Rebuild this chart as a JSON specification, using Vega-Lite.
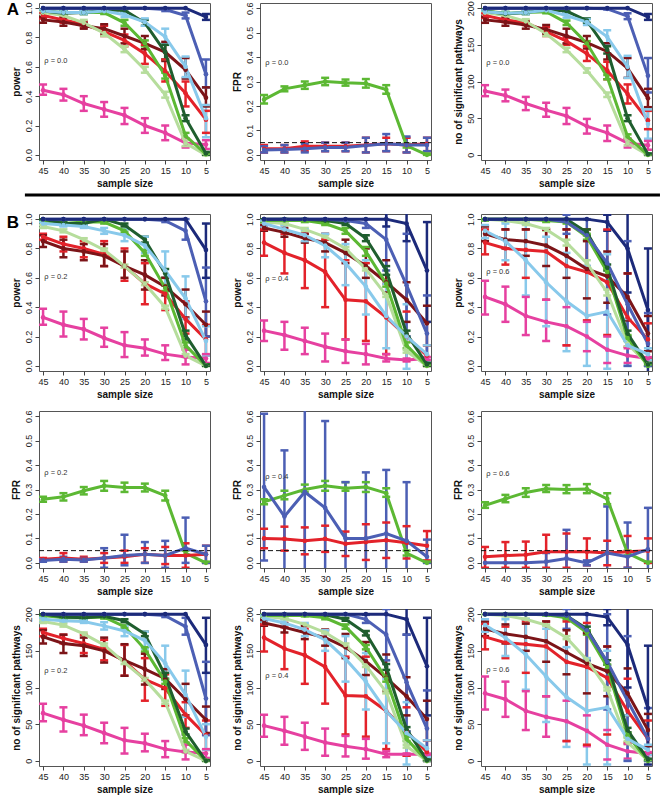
{
"$schema": "https://vega.github.io/schema/vega-lite/v6.json",
"padding": {"left": 6, "top": 0, "right": 0, "bottom": 0},
"config": {
  "font": "Liberation Sans",
  "view": {"stroke": "#555", "strokeWidth": 1},
  "axis": {"domain": false, "grid": false, "labelOverlap": false, "tickSize": 4, "tickColor": "#444", "tickWidth": 1, "labelFontSize": 9, "labelColor": "#222", "labelPadding": 2, "titleFontSize": 10, "titleFontWeight": "bold", "titleColor": "#111"},
  "axisY": {"labelAngle": -90, "labelAlign": "center", "labelBaseline": "bottom", "titlePadding": 3},
  "axisX": {"titlePadding": 3, "labelFlush": false}
},
"datasets": {
"A1": [
{"s":"i","n":45,"v":0.44,"l":0.41,"h":0.48},{"s":"i","n":40,"v":0.41,"l":0.37,"h":0.45},{"s":"i","n":35,"v":0.35,"l":0.30,"h":0.40},{"s":"i","n":30,"v":0.31,"l":0.26,"h":0.36},{"s":"i","n":25,"v":0.27,"l":0.21,"h":0.32},{"s":"i","n":20,"v":0.20,"l":0.15,"h":0.25},{"s":"i","n":15,"v":0.15,"l":0.10,"h":0.20},{"s":"i","n":10,"v":0.08,"l":0.05,"h":0.11},{"s":"i","n":5,"v":0.07,"l":0.04,"h":0.10},
{"s":"h","n":45,"v":0.95,"l":0.93,"h":0.97},{"s":"h","n":40,"v":0.92,"l":0.90,"h":0.94},{"s":"h","n":35,"v":0.89,"l":0.87,"h":0.91},{"s":"h","n":30,"v":0.84,"l":0.81,"h":0.88},{"s":"h","n":25,"v":0.78,"l":0.74,"h":0.82},{"s":"h","n":20,"v":0.69,"l":0.62,"h":0.75},{"s":"h","n":15,"v":0.57,"l":0.50,"h":0.65},{"s":"h","n":10,"v":0.42,"l":0.33,"h":0.50},{"s":"h","n":5,"v":0.24,"l":0.15,"h":0.30},
{"s":"g","n":45,"v":0.92,"l":0.90,"h":0.94},{"s":"g","n":40,"v":0.905,"l":0.88,"h":0.93},{"s":"g","n":35,"v":0.88,"l":0.86,"h":0.90},{"s":"g","n":30,"v":0.86,"l":0.82,"h":0.89},{"s":"g","n":25,"v":0.81,"l":0.76,"h":0.86},{"s":"g","n":20,"v":0.76,"l":0.72,"h":0.81},{"s":"g","n":15,"v":0.70,"l":0.64,"h":0.77},{"s":"g","n":10,"v":0.58,"l":0.52,"h":0.66},{"s":"g","n":5,"v":0.39,"l":0.33,"h":0.46},
{"s":"f","n":45,"v":0.97,"l":0.96,"h":0.98},{"s":"f","n":40,"v":0.95,"l":0.94,"h":0.96},{"s":"f","n":35,"v":0.90,"l":0.88,"h":0.92},{"s":"f","n":30,"v":0.83,"l":0.81,"h":0.85},{"s":"f","n":25,"v":0.72,"l":0.70,"h":0.74},{"s":"f","n":20,"v":0.58,"l":0.56,"h":0.60},{"s":"f","n":15,"v":0.41,"l":0.39,"h":0.43},{"s":"f","n":10,"v":0.08,"l":0.06,"h":0.10},{"s":"f","n":5,"v":0.0,"l":0.0,"h":0.01},
{"s":"e","n":45,"v":0.98,"l":0.97,"h":0.99},{"s":"e","n":40,"v":0.97,"l":0.96,"h":0.98},{"s":"e","n":35,"v":0.97,"l":0.96,"h":0.98},{"s":"e","n":30,"v":0.97,"l":0.96,"h":0.98},{"s":"e","n":25,"v":0.90,"l":0.88,"h":0.92},{"s":"e","n":20,"v":0.76,"l":0.74,"h":0.78},{"s":"e","n":15,"v":0.54,"l":0.52,"h":0.56},{"s":"e","n":10,"v":0.13,"l":0.11,"h":0.15},{"s":"e","n":5,"v":0.005,"l":0.0,"h":0.01},
{"s":"d","n":45,"v":0.98,"l":0.97,"h":0.99},{"s":"d","n":40,"v":0.965,"l":0.95,"h":0.98},{"s":"d","n":35,"v":0.97,"l":0.96,"h":0.98},{"s":"d","n":30,"v":0.985,"l":0.975,"h":0.995},{"s":"d","n":25,"v":0.985,"l":0.975,"h":0.995},{"s":"d","n":20,"v":0.90,"l":0.88,"h":0.92},{"s":"d","n":15,"v":0.70,"l":0.65,"h":0.75},{"s":"d","n":10,"v":0.25,"l":0.23,"h":0.27},{"s":"d","n":5,"v":0.01,"l":0.0,"h":0.02},
{"s":"c","n":45,"v":0.98,"l":0.97,"h":0.99},{"s":"c","n":40,"v":0.97,"l":0.96,"h":0.98},{"s":"c","n":35,"v":0.97,"l":0.96,"h":0.98},{"s":"c","n":30,"v":0.98,"l":0.97,"h":0.99},{"s":"c","n":25,"v":0.955,"l":0.94,"h":0.97},{"s":"c","n":20,"v":0.905,"l":0.88,"h":0.93},{"s":"c","n":15,"v":0.805,"l":0.76,"h":0.86},{"s":"c","n":10,"v":0.60,"l":0.53,"h":0.67},{"s":"c","n":5,"v":0.25,"l":0.12,"h":0.34},
{"s":"b","n":45,"v":1},{"s":"b","n":40,"v":1},{"s":"b","n":35,"v":1},{"s":"b","n":30,"v":1},{"s":"b","n":25,"v":1},{"s":"b","n":20,"v":1},{"s":"b","n":15,"v":0.99,"l":0.98,"h":1.0},{"s":"b","n":10,"v":0.95,"l":0.93,"h":0.97},{"s":"b","n":5,"v":0.55,"l":0.46,"h":0.65},
{"s":"a","n":45,"v":1},{"s":"a","n":40,"v":1},{"s":"a","n":35,"v":1},{"s":"a","n":30,"v":1},{"s":"a","n":25,"v":1},{"s":"a","n":20,"v":1},{"s":"a","n":15,"v":1},{"s":"a","n":10,"v":1},{"s":"a","n":5,"v":0.94,"l":0.92,"h":0.96}
],
"A2": [
{"s":"e","n":45,"v":0.226,"l":0.21,"h":0.245},{"s":"e","n":40,"v":0.27,"l":0.26,"h":0.28},{"s":"e","n":35,"v":0.285,"l":0.27,"h":0.30},{"s":"e","n":30,"v":0.30,"l":0.285,"h":0.315},{"s":"e","n":25,"v":0.295,"l":0.283,"h":0.308},{"s":"e","n":20,"v":0.292,"l":0.275,"h":0.31},{"s":"e","n":15,"v":0.267,"l":0.25,"h":0.285},{"s":"e","n":10,"v":0.038,"l":0.03,"h":0.046},{"s":"e","n":5,"v":0.0,"l":0.0,"h":0.005},
{"s":"h","n":45,"v":0.025,"l":0.01,"h":0.04},{"s":"h","n":40,"v":0.025,"l":0.01,"h":0.04},{"s":"h","n":35,"v":0.035,"l":0.015,"h":0.055},{"s":"h","n":30,"v":0.035,"l":0.015,"h":0.05},{"s":"h","n":25,"v":0.035,"l":0.015,"h":0.05},{"s":"h","n":20,"v":0.04,"l":0.01,"h":0.07},{"s":"h","n":15,"v":0.045,"l":0.015,"h":0.07},{"s":"h","n":10,"v":0.04,"l":0.01,"h":0.07},{"s":"h","n":5,"v":0.045,"l":0.015,"h":0.07},
{"s":"b","n":45,"v":0.02,"l":0.01,"h":0.035},{"s":"b","n":40,"v":0.022,"l":0.01,"h":0.04},{"s":"b","n":35,"v":0.025,"l":0.01,"h":0.045},{"s":"b","n":30,"v":0.03,"l":0.015,"h":0.05},{"s":"b","n":25,"v":0.03,"l":0.015,"h":0.05},{"s":"b","n":20,"v":0.038,"l":0.01,"h":0.07},{"s":"b","n":15,"v":0.045,"l":0.015,"h":0.085},{"s":"b","n":10,"v":0.04,"l":0.01,"h":0.075},{"s":"b","n":5,"v":0.04,"l":0.015,"h":0.07}
],
"A3": [
{"s":"i","n":45,"v":87,"l":80,"h":95},{"s":"i","n":40,"v":81,"l":73,"h":89},{"s":"i","n":35,"v":70,"l":61,"h":79},{"s":"i","n":30,"v":61,"l":52,"h":71},{"s":"i","n":25,"v":53,"l":42,"h":64},{"s":"i","n":20,"v":39,"l":29,"h":49},{"s":"i","n":15,"v":30,"l":19,"h":40},{"s":"i","n":10,"v":16,"l":10,"h":22},{"s":"i","n":5,"v":13,"l":7,"h":19},
{"s":"h","n":45,"v":190,"l":187,"h":193},{"s":"h","n":40,"v":184,"l":181,"h":187},{"s":"h","n":35,"v":180,"l":177,"h":183},{"s":"h","n":30,"v":168,"l":162,"h":174},{"s":"h","n":25,"v":155,"l":150,"h":160},{"s":"h","n":20,"v":138,"l":128,"h":148},{"s":"h","n":15,"v":115,"l":103,"h":127},{"s":"h","n":10,"v":83,"l":70,"h":96},{"s":"h","n":5,"v":47,"l":35,"h":60},
{"s":"g","n":45,"v":184,"l":180,"h":188},{"s":"g","n":40,"v":181,"l":176,"h":186},{"s":"g","n":35,"v":177,"l":172,"h":182},{"s":"g","n":30,"v":171,"l":165,"h":177},{"s":"g","n":25,"v":162,"l":152,"h":172},{"s":"g","n":20,"v":153,"l":145,"h":162},{"s":"g","n":15,"v":141,"l":130,"h":152},{"s":"g","n":10,"v":118,"l":105,"h":132},{"s":"g","n":5,"v":77,"l":65,"h":90},
{"s":"f","n":45,"v":194,"l":192,"h":196},{"s":"f","n":40,"v":190,"l":188,"h":192},{"s":"f","n":35,"v":182,"l":179,"h":185},{"s":"f","n":30,"v":165,"l":162,"h":168},{"s":"f","n":25,"v":143,"l":140,"h":146},{"s":"f","n":20,"v":115,"l":112,"h":118},{"s":"f","n":15,"v":82,"l":79,"h":85},{"s":"f","n":10,"v":16,"l":13,"h":19},{"s":"f","n":5,"v":0,"l":0,"h":1},
{"s":"e","n":45,"v":196,"l":194,"h":198},{"s":"e","n":40,"v":193,"l":191,"h":195},{"s":"e","n":35,"v":194,"l":192,"h":196},{"s":"e","n":30,"v":195,"l":193,"h":197},{"s":"e","n":25,"v":180,"l":177,"h":183},{"s":"e","n":20,"v":152,"l":149,"h":155},{"s":"e","n":15,"v":106,"l":103,"h":109},{"s":"e","n":10,"v":25,"l":22,"h":28},{"s":"e","n":5,"v":0,"l":0,"h":1},
{"s":"d","n":45,"v":196,"l":194,"h":198},{"s":"d","n":40,"v":192,"l":190,"h":194},{"s":"d","n":35,"v":194,"l":192,"h":196},{"s":"d","n":30,"v":198,"l":196,"h":200},{"s":"d","n":25,"v":196,"l":194,"h":198},{"s":"d","n":20,"v":183,"l":180,"h":186},{"s":"d","n":15,"v":143,"l":138,"h":148},{"s":"d","n":10,"v":50,"l":46,"h":54},{"s":"d","n":5,"v":1,"l":0,"h":2},
{"s":"c","n":45,"v":195,"l":193,"h":197},{"s":"c","n":40,"v":193,"l":191,"h":195},{"s":"c","n":35,"v":194,"l":192,"h":196},{"s":"c","n":30,"v":197,"l":195,"h":199},{"s":"c","n":25,"v":190,"l":187,"h":193},{"s":"c","n":20,"v":181,"l":177,"h":185},{"s":"c","n":15,"v":161,"l":150,"h":170},{"s":"c","n":10,"v":120,"l":105,"h":135},{"s":"c","n":5,"v":42,"l":22,"h":62},
{"s":"b","n":45,"v":200},{"s":"b","n":40,"v":200},{"s":"b","n":35,"v":200},{"s":"b","n":30,"v":200},{"s":"b","n":25,"v":200},{"s":"b","n":20,"v":200},{"s":"b","n":15,"v":199,"l":198,"h":200},{"s":"b","n":10,"v":189,"l":185,"h":193},{"s":"b","n":5,"v":108,"l":85,"h":132},
{"s":"a","n":45,"v":200},{"s":"a","n":40,"v":200},{"s":"a","n":35,"v":200},{"s":"a","n":30,"v":200},{"s":"a","n":25,"v":200},{"s":"a","n":20,"v":200},{"s":"a","n":15,"v":200},{"s":"a","n":10,"v":200},{"s":"a","n":5,"v":188,"l":184,"h":192}
],
"B1p": [
{"s":"i","n":45,"v":0.33,"l":0.28,"h":0.39},{"s":"i","n":40,"v":0.28,"l":0.20,"h":0.37},{"s":"i","n":35,"v":0.25,"l":0.18,"h":0.32},{"s":"i","n":30,"v":0.19,"l":0.13,"h":0.26},{"s":"i","n":25,"v":0.14,"l":0.06,"h":0.23},{"s":"i","n":20,"v":0.12,"l":0.07,"h":0.18},{"s":"i","n":15,"v":0.08,"l":0.04,"h":0.14},{"s":"i","n":10,"v":0.06,"l":0.01,"h":0.11},{"s":"i","n":5,"v":0.05,"l":0.02,"h":0.08},
{"s":"h","n":45,"v":0.88,"l":0.86,"h":0.90},{"s":"h","n":40,"v":0.83,"l":0.78,"h":0.88},{"s":"h","n":35,"v":0.80,"l":0.74,"h":0.85},{"s":"h","n":30,"v":0.76,"l":0.68,"h":0.85},{"s":"h","n":25,"v":0.68,"l":0.58,"h":0.80},{"s":"h","n":20,"v":0.56,"l":0.42,"h":0.70},{"s":"h","n":15,"v":0.49,"l":0.38,"h":0.55},{"s":"h","n":10,"v":0.32,"l":0.22,"h":0.44},{"s":"h","n":5,"v":0.18,"l":0.07,"h":0.28},
{"s":"g","n":45,"v":0.85,"l":0.81,"h":0.89},{"s":"g","n":40,"v":0.80,"l":0.74,"h":0.86},{"s":"g","n":35,"v":0.78,"l":0.72,"h":0.83},{"s":"g","n":30,"v":0.75,"l":0.68,"h":0.83},{"s":"g","n":25,"v":0.68,"l":0.60,"h":0.78},{"s":"g","n":20,"v":0.62,"l":0.52,"h":0.72},{"s":"g","n":15,"v":0.54,"l":0.48,"h":0.60},{"s":"g","n":10,"v":0.42,"l":0.33,"h":0.52},{"s":"g","n":5,"v":0.28,"l":0.20,"h":0.37},
{"s":"f","n":45,"v":0.95,"l":0.94,"h":0.96},{"s":"f","n":40,"v":0.92,"l":0.91,"h":0.93},{"s":"f","n":35,"v":0.86,"l":0.85,"h":0.87},{"s":"f","n":30,"v":0.79,"l":0.78,"h":0.80},{"s":"f","n":25,"v":0.68,"l":0.67,"h":0.69},{"s":"f","n":20,"v":0.56,"l":0.55,"h":0.57},{"s":"f","n":15,"v":0.40,"l":0.39,"h":0.41},{"s":"f","n":10,"v":0.07,"l":0.06,"h":0.08},{"s":"f","n":5,"v":0.0,"l":0.0,"h":0.01},
{"s":"e","n":45,"v":0.99,"l":0.98,"h":1.0},{"s":"e","n":40,"v":0.97,"l":0.96,"h":0.98},{"s":"e","n":35,"v":0.98,"l":0.97,"h":0.99},{"s":"e","n":30,"v":0.98,"l":0.97,"h":0.99},{"s":"e","n":25,"v":0.92,"l":0.91,"h":0.93},{"s":"e","n":20,"v":0.77,"l":0.75,"h":0.79},{"s":"e","n":15,"v":0.53,"l":0.51,"h":0.55},{"s":"e","n":10,"v":0.14,"l":0.12,"h":0.16},{"s":"e","n":5,"v":0.0,"l":0.0,"h":0.01},
{"s":"d","n":45,"v":1.0,"l":0.99,"h":1.0},{"s":"d","n":40,"v":0.97,"l":0.96,"h":0.98},{"s":"d","n":35,"v":0.97,"l":0.96,"h":0.98},{"s":"d","n":30,"v":1.0,"l":0.99,"h":1.0},{"s":"d","n":25,"v":0.96,"l":0.95,"h":0.97},{"s":"d","n":20,"v":0.86,"l":0.84,"h":0.88},{"s":"d","n":15,"v":0.63,"l":0.60,"h":0.66},{"s":"d","n":10,"v":0.21,"l":0.18,"h":0.24},{"s":"d","n":5,"v":0.0,"l":0.0,"h":0.01},
{"s":"c","n":45,"v":0.97,"l":0.96,"h":0.98},{"s":"c","n":40,"v":0.96,"l":0.95,"h":0.97},{"s":"c","n":35,"v":0.95,"l":0.94,"h":0.96},{"s":"c","n":30,"v":0.92,"l":0.90,"h":0.94},{"s":"c","n":25,"v":0.89,"l":0.85,"h":0.93},{"s":"c","n":20,"v":0.82,"l":0.77,"h":0.88},{"s":"c","n":15,"v":0.65,"l":0.55,"h":0.78},{"s":"c","n":10,"v":0.46,"l":0.32,"h":0.61},{"s":"c","n":5,"v":0.17,"l":0.07,"h":0.27},
{"s":"b","n":45,"v":1},{"s":"b","n":40,"v":1},{"s":"b","n":35,"v":1},{"s":"b","n":30,"v":1},{"s":"b","n":25,"v":1},{"s":"b","n":20,"v":1},{"s":"b","n":15,"v":0.99,"l":0.98,"h":1.0},{"s":"b","n":10,"v":0.92,"l":0.86,"h":1.0},{"s":"b","n":5,"v":0.44,"l":0.20,"h":0.67},
{"s":"a","n":45,"v":1},{"s":"a","n":40,"v":1},{"s":"a","n":35,"v":1},{"s":"a","n":30,"v":1},{"s":"a","n":25,"v":1},{"s":"a","n":20,"v":1},{"s":"a","n":15,"v":1},{"s":"a","n":10,"v":1},{"s":"a","n":5,"v":0.79,"l":0.60,"h":0.97}
],
"B2p": [
{"s":"i","n":45,"v":0.24,"l":0.17,"h":0.31},{"s":"i","n":40,"v":0.21,"l":0.11,"h":0.30},{"s":"i","n":35,"v":0.17,"l":0.08,"h":0.26},{"s":"i","n":30,"v":0.13,"l":0.03,"h":0.22},{"s":"i","n":25,"v":0.10,"l":0.02,"h":0.18},{"s":"i","n":20,"v":0.08,"l":0.01,"h":0.15},{"s":"i","n":15,"v":0.05,"l":0.03,"h":0.08},{"s":"i","n":10,"v":0.04,"l":0.03,"h":0.05},{"s":"i","n":5,"v":0.05,"l":0.04,"h":0.06},
{"s":"h","n":45,"v":0.84,"l":0.75,"h":0.93},{"s":"h","n":40,"v":0.77,"l":0.63,"h":0.90},{"s":"h","n":35,"v":0.72,"l":0.53,"h":0.90},{"s":"h","n":30,"v":0.64,"l":0.40,"h":0.86},{"s":"h","n":25,"v":0.45,"l":0.18,"h":0.72},{"s":"h","n":20,"v":0.44,"l":0.17,"h":0.70},{"s":"h","n":15,"v":0.33,"l":0.08,"h":0.56},{"s":"h","n":10,"v":0.20,"l":0.04,"h":0.37},{"s":"h","n":5,"v":0.07,"l":0.0,"h":0.14},
{"s":"g","n":45,"v":0.94,"l":0.92,"h":0.96},{"s":"g","n":40,"v":0.91,"l":0.88,"h":0.94},{"s":"g","n":35,"v":0.87,"l":0.84,"h":0.90},{"s":"g","n":30,"v":0.84,"l":0.78,"h":0.90},{"s":"g","n":25,"v":0.77,"l":0.70,"h":0.86},{"s":"g","n":20,"v":0.68,"l":0.60,"h":0.80},{"s":"g","n":15,"v":0.57,"l":0.50,"h":0.72},{"s":"g","n":10,"v":0.45,"l":0.30,"h":0.57},{"s":"g","n":5,"v":0.29,"l":0.14,"h":0.41},
{"s":"f","n":45,"v":0.98,"l":0.97,"h":0.99},{"s":"f","n":40,"v":0.97,"l":0.96,"h":0.98},{"s":"f","n":35,"v":0.93,"l":0.92,"h":0.94},{"s":"f","n":30,"v":0.88,"l":0.87,"h":0.89},{"s":"f","n":25,"v":0.80,"l":0.79,"h":0.81},{"s":"f","n":20,"v":0.66,"l":0.65,"h":0.67},{"s":"f","n":15,"v":0.48,"l":0.47,"h":0.49},{"s":"f","n":10,"v":0.10,"l":0.09,"h":0.11},{"s":"f","n":5,"v":0.0,"l":0.0,"h":0.01},
{"s":"e","n":45,"v":0.99,"l":0.98,"h":1.0},{"s":"e","n":40,"v":0.99,"l":0.98,"h":1.0},{"s":"e","n":35,"v":0.99,"l":0.98,"h":1.0},{"s":"e","n":30,"v":0.97,"l":0.96,"h":0.98},{"s":"e","n":25,"v":0.92,"l":0.90,"h":0.94},{"s":"e","n":20,"v":0.78,"l":0.75,"h":0.81},{"s":"e","n":15,"v":0.56,"l":0.54,"h":0.58},{"s":"e","n":10,"v":0.14,"l":0.12,"h":0.16},{"s":"e","n":5,"v":0.0,"l":0.0,"h":0.01},
{"s":"d","n":45,"v":1.0,"l":0.99,"h":1.0},{"s":"d","n":40,"v":1.0,"l":0.99,"h":1.0},{"s":"d","n":35,"v":1.0,"l":0.99,"h":1.0},{"s":"d","n":30,"v":0.99,"l":0.98,"h":1.0},{"s":"d","n":25,"v":0.97,"l":0.96,"h":0.98},{"s":"d","n":20,"v":0.87,"l":0.85,"h":0.89},{"s":"d","n":15,"v":0.65,"l":0.62,"h":0.68},{"s":"d","n":10,"v":0.22,"l":0.20,"h":0.24},{"s":"d","n":5,"v":0.01,"l":0.0,"h":0.02},
{"s":"c","n":45,"v":0.97,"l":0.95,"h":0.99},{"s":"c","n":40,"v":0.93,"l":0.90,"h":0.96},{"s":"c","n":35,"v":0.89,"l":0.85,"h":0.93},{"s":"c","n":30,"v":0.82,"l":0.74,"h":0.90},{"s":"c","n":25,"v":0.70,"l":0.55,"h":0.83},{"s":"c","n":20,"v":0.54,"l":0.35,"h":0.72},{"s":"c","n":15,"v":0.34,"l":0.12,"h":0.56},{"s":"c","n":10,"v":0.20,"l":-0.02,"h":0.42},{"s":"c","n":5,"v":0.08,"l":0.02,"h":0.14},
{"s":"b","n":45,"v":1},{"s":"b","n":40,"v":1},{"s":"b","n":35,"v":1},{"s":"b","n":30,"v":1},{"s":"b","n":25,"v":0.99,"l":0.98,"h":1.0},{"s":"b","n":20,"v":0.97,"l":0.94,"h":1.0},{"s":"b","n":15,"v":0.86,"l":0.65,"h":1.05},{"s":"b","n":10,"v":0.55,"l":0.20,"h":0.90},{"s":"b","n":5,"v":0.22,"l":0.02,"h":0.48},
{"s":"a","n":45,"v":1},{"s":"a","n":40,"v":1},{"s":"a","n":35,"v":1},{"s":"a","n":30,"v":1},{"s":"a","n":25,"v":1},{"s":"a","n":20,"v":1},{"s":"a","n":15,"v":1.0,"l":0.95,"h":1.05},{"s":"a","n":10,"v":0.97,"l":0.85,"h":1.05},{"s":"a","n":5,"v":0.65,"l":0.30,"h":0.98}
],
"B3p": [
{"s":"i","n":45,"v":0.47,"l":0.35,"h":0.58},{"s":"i","n":40,"v":0.42,"l":0.30,"h":0.54},{"s":"i","n":35,"v":0.34,"l":0.21,"h":0.47},{"s":"i","n":30,"v":0.30,"l":0.17,"h":0.45},{"s":"i","n":25,"v":0.27,"l":0.14,"h":0.40},{"s":"i","n":20,"v":0.20,"l":0.10,"h":0.30},{"s":"i","n":15,"v":0.11,"l":0.02,"h":0.20},{"s":"i","n":10,"v":0.07,"l":0.02,"h":0.12},{"s":"i","n":5,"v":0.05,"l":0.04,"h":0.06},
{"s":"h","n":45,"v":0.84,"l":0.76,"h":0.93},{"s":"h","n":40,"v":0.80,"l":0.69,"h":0.93},{"s":"h","n":35,"v":0.79,"l":0.60,"h":0.93},{"s":"h","n":30,"v":0.78,"l":0.45,"h":0.93},{"s":"h","n":25,"v":0.68,"l":0.14,"h":0.93},{"s":"h","n":20,"v":0.64,"l":0.31,"h":0.93},{"s":"h","n":15,"v":0.57,"l":0.21,"h":0.93},{"s":"h","n":10,"v":0.33,"l":0.13,"h":0.63},{"s":"h","n":5,"v":0.18,"l":0.05,"h":0.29},
{"s":"g","n":45,"v":0.90,"l":0.85,"h":0.95},{"s":"g","n":40,"v":0.86,"l":0.80,"h":0.93},{"s":"g","n":35,"v":0.85,"l":0.75,"h":0.93},{"s":"g","n":30,"v":0.82,"l":0.68,"h":0.93},{"s":"g","n":25,"v":0.75,"l":0.60,"h":0.93},{"s":"g","n":20,"v":0.66,"l":0.46,"h":0.85},{"s":"g","n":15,"v":0.61,"l":0.43,"h":0.78},{"s":"g","n":10,"v":0.47,"l":0.31,"h":0.63},{"s":"g","n":5,"v":0.22,"l":0.10,"h":0.34},
{"s":"f","n":45,"v":1.0,"l":0.99,"h":1.0},{"s":"f","n":40,"v":0.99,"l":0.98,"h":1.0},{"s":"f","n":35,"v":0.97,"l":0.96,"h":0.98},{"s":"f","n":30,"v":0.93,"l":0.92,"h":0.94},{"s":"f","n":25,"v":0.84,"l":0.82,"h":0.86},{"s":"f","n":20,"v":0.70,"l":0.68,"h":0.72},{"s":"f","n":15,"v":0.50,"l":0.48,"h":0.52},{"s":"f","n":10,"v":0.15,"l":0.13,"h":0.17},{"s":"f","n":5,"v":0.01,"l":0.0,"h":0.02},
{"s":"e","n":45,"v":1.0,"l":0.99,"h":1.0},{"s":"e","n":40,"v":1.0,"l":0.99,"h":1.0},{"s":"e","n":35,"v":1.0,"l":0.99,"h":1.0},{"s":"e","n":30,"v":0.99,"l":0.98,"h":1.0},{"s":"e","n":25,"v":0.98,"l":0.97,"h":0.99},{"s":"e","n":20,"v":0.88,"l":0.86,"h":0.90},{"s":"e","n":15,"v":0.64,"l":0.62,"h":0.66},{"s":"e","n":10,"v":0.19,"l":0.17,"h":0.21},{"s":"e","n":5,"v":0.0,"l":0.0,"h":0.01},
{"s":"d","n":45,"v":1},{"s":"d","n":40,"v":1},{"s":"d","n":35,"v":1},{"s":"d","n":30,"v":1},{"s":"d","n":25,"v":1.0,"l":0.99,"h":1.0},{"s":"d","n":20,"v":0.91,"l":0.89,"h":0.93},{"s":"d","n":15,"v":0.67,"l":0.65,"h":0.69},{"s":"d","n":10,"v":0.22,"l":0.20,"h":0.24},{"s":"d","n":5,"v":0.01,"l":0.0,"h":0.02},
{"s":"c","n":45,"v":0.92,"l":0.87,"h":0.96},{"s":"c","n":40,"v":0.85,"l":0.72,"h":0.97},{"s":"c","n":35,"v":0.72,"l":0.48,"h":0.97},{"s":"c","n":30,"v":0.57,"l":0.27,"h":0.88},{"s":"c","n":25,"v":0.44,"l":0.10,"h":0.77},{"s":"c","n":20,"v":0.34,"l":0.0,"h":0.68},{"s":"c","n":15,"v":0.37,"l":-0.02,"h":0.76},{"s":"c","n":10,"v":0.14,"l":0.0,"h":0.32},{"s":"c","n":5,"v":0.08,"l":0.04,"h":0.12},
{"s":"b","n":45,"v":1},{"s":"b","n":40,"v":1},{"s":"b","n":35,"v":1},{"s":"b","n":30,"v":1},{"s":"b","n":25,"v":0.98,"l":0.90,"h":1.03},{"s":"b","n":20,"v":0.89,"l":0.68,"h":1.0},{"s":"b","n":15,"v":0.70,"l":0.35,"h":1.03},{"s":"b","n":10,"v":0.42,"l":0.0,"h":0.85},{"s":"b","n":5,"v":0.15,"l":0.0,"h":0.36},
{"s":"a","n":45,"v":1},{"s":"a","n":40,"v":1},{"s":"a","n":35,"v":1},{"s":"a","n":30,"v":1},{"s":"a","n":25,"v":1},{"s":"a","n":20,"v":1},{"s":"a","n":15,"v":0.98,"l":0.92,"h":1.03},{"s":"a","n":10,"v":0.80,"l":0.50,"h":1.1},{"s":"a","n":5,"v":0.38,"l":-0.05,"h":0.80}
],
"B1f": [
{"s":"e","n":45,"v":0.26,"l":0.25,"h":0.27},{"s":"e","n":40,"v":0.27,"l":0.255,"h":0.285},{"s":"e","n":35,"v":0.295,"l":0.28,"h":0.31},{"s":"e","n":30,"v":0.315,"l":0.295,"h":0.335},{"s":"e","n":25,"v":0.308,"l":0.29,"h":0.328},{"s":"e","n":20,"v":0.308,"l":0.292,"h":0.324},{"s":"e","n":15,"v":0.275,"l":0.255,"h":0.295},{"s":"e","n":10,"v":0.04,"l":0.03,"h":0.05},{"s":"e","n":5,"v":0.0,"l":0.0,"h":0.005},
{"s":"h","n":45,"v":0.015,"l":0.01,"h":0.02},{"s":"h","n":40,"v":0.02,"l":0.005,"h":0.04},{"s":"h","n":35,"v":0.015,"l":0.005,"h":0.025},{"s":"h","n":30,"v":0.02,"l":0.0,"h":0.04},{"s":"h","n":25,"v":0.025,"l":0.0,"h":0.05},{"s":"h","n":20,"v":0.035,"l":0.0,"h":0.06},{"s":"h","n":15,"v":0.03,"l":-0.005,"h":0.065},{"s":"h","n":10,"v":0.03,"l":-0.02,"h":0.08},{"s":"h","n":5,"v":0.035,"l":0.0,"h":0.07},
{"s":"b","n":45,"v":0.01,"l":0.005,"h":0.015},{"s":"b","n":40,"v":0.015,"l":0.005,"h":0.025},{"s":"b","n":35,"v":0.012,"l":0.005,"h":0.02},{"s":"b","n":30,"v":0.02,"l":-0.02,"h":0.06},{"s":"b","n":25,"v":0.03,"l":-0.01,"h":0.115},{"s":"b","n":20,"v":0.035,"l":0.0,"h":0.085},{"s":"b","n":15,"v":0.03,"l":-0.02,"h":0.09},{"s":"b","n":10,"v":0.06,"l":0.0,"h":0.185},{"s":"b","n":5,"v":0.035,"l":0.0,"h":0.07}
],
"B2f": [
{"s":"e","n":45,"v":0.25,"l":0.24,"h":0.26},{"s":"e","n":40,"v":0.275,"l":0.26,"h":0.295},{"s":"e","n":35,"v":0.30,"l":0.29,"h":0.32},{"s":"e","n":30,"v":0.315,"l":0.295,"h":0.335},{"s":"e","n":25,"v":0.305,"l":0.295,"h":0.33},{"s":"e","n":20,"v":0.31,"l":0.29,"h":0.33},{"s":"e","n":15,"v":0.285,"l":0.27,"h":0.305},{"s":"e","n":10,"v":0.04,"l":0.03,"h":0.05},{"s":"e","n":5,"v":0.0,"l":0.0,"h":0.005},
{"s":"h","n":45,"v":0.10,"l":0.06,"h":0.14},{"s":"h","n":40,"v":0.098,"l":0.05,"h":0.148},{"s":"h","n":35,"v":0.09,"l":0.035,"h":0.145},{"s":"h","n":30,"v":0.098,"l":0.045,"h":0.152},{"s":"h","n":25,"v":0.078,"l":0.028,"h":0.128},{"s":"h","n":20,"v":0.085,"l":0.012,"h":0.158},{"s":"h","n":15,"v":0.092,"l":0.02,"h":0.165},{"s":"h","n":10,"v":0.082,"l":0.018,"h":0.15},{"s":"h","n":5,"v":0.07,"l":0.01,"h":0.13},
{"s":"b","n":45,"v":0.31,"l":0.01,"h":0.61},{"s":"b","n":40,"v":0.19,"l":-0.03,"h":0.46},{"s":"b","n":35,"v":0.29,"l":-0.03,"h":0.65},{"s":"b","n":30,"v":0.225,"l":-0.03,"h":0.58},{"s":"b","n":25,"v":0.10,"l":-0.03,"h":0.33},{"s":"b","n":20,"v":0.10,"l":-0.03,"h":0.37},{"s":"b","n":15,"v":0.12,"l":-0.03,"h":0.38},{"s":"b","n":10,"v":0.09,"l":-0.03,"h":0.33},{"s":"b","n":5,"v":0.025,"l":0.0,"h":0.095}
],
"B3f": [
{"s":"e","n":45,"v":0.235,"l":0.225,"h":0.248},{"s":"e","n":40,"v":0.262,"l":0.248,"h":0.278},{"s":"e","n":35,"v":0.288,"l":0.27,"h":0.305},{"s":"e","n":30,"v":0.303,"l":0.29,"h":0.318},{"s":"e","n":25,"v":0.30,"l":0.285,"h":0.318},{"s":"e","n":20,"v":0.302,"l":0.285,"h":0.322},{"s":"e","n":15,"v":0.262,"l":0.24,"h":0.285},{"s":"e","n":10,"v":0.04,"l":0.03,"h":0.05},{"s":"e","n":5,"v":0.0,"l":0.0,"h":0.005},
{"s":"h","n":45,"v":0.025,"l":-0.02,"h":0.065},{"s":"h","n":40,"v":0.03,"l":-0.02,"h":0.085},{"s":"h","n":35,"v":0.033,"l":-0.02,"h":0.087},{"s":"h","n":30,"v":0.045,"l":-0.02,"h":0.115},{"s":"h","n":25,"v":0.045,"l":-0.02,"h":0.12},{"s":"h","n":20,"v":0.045,"l":-0.01,"h":0.10},{"s":"h","n":15,"v":0.04,"l":-0.01,"h":0.09},{"s":"h","n":10,"v":0.045,"l":-0.02,"h":0.11},{"s":"h","n":5,"v":0.05,"l":0.0,"h":0.10},
{"s":"b","n":45,"v":0.0},{"s":"b","n":40,"v":0.0},{"s":"b","n":35,"v":0.0},{"s":"b","n":30,"v":0.005,"l":-0.03,"h":0.04},{"s":"b","n":25,"v":0.018,"l":-0.03,"h":0.135},{"s":"b","n":20,"v":0.0,"l":-0.01,"h":0.01},{"s":"b","n":15,"v":0.04,"l":-0.03,"h":0.23},{"s":"b","n":10,"v":0.025,"l":-0.02,"h":0.165},{"s":"b","n":5,"v":0.055,"l":-0.03,"h":0.225}
],
"B1c": [
{"s":"i","n":45,"v":65,"l":54,"h":78},{"s":"i","n":40,"v":56,"l":40,"h":73},{"s":"i","n":35,"v":48,"l":35,"h":63},{"s":"i","n":30,"v":38,"l":24,"h":52},{"s":"i","n":25,"v":28,"l":10,"h":45},{"s":"i","n":20,"v":24,"l":13,"h":37},{"s":"i","n":15,"v":16,"l":5,"h":27},{"s":"i","n":10,"v":12,"l":2,"h":22},{"s":"i","n":5,"v":10,"l":4,"h":16},
{"s":"h","n":45,"v":175,"l":170,"h":180},{"s":"h","n":40,"v":167,"l":160,"h":172},{"s":"h","n":35,"v":160,"l":147,"h":172},{"s":"h","n":30,"v":152,"l":137,"h":165},{"s":"h","n":25,"v":136,"l":116,"h":158},{"s":"h","n":20,"v":111,"l":82,"h":140},{"s":"h","n":15,"v":99,"l":75,"h":118},{"s":"h","n":10,"v":63,"l":45,"h":80},{"s":"h","n":5,"v":35,"l":15,"h":55},
{"s":"g","n":45,"v":169,"l":160,"h":178},{"s":"g","n":40,"v":160,"l":147,"h":172},{"s":"g","n":35,"v":157,"l":143,"h":168},{"s":"g","n":30,"v":150,"l":134,"h":168},{"s":"g","n":25,"v":137,"l":116,"h":159},{"s":"g","n":20,"v":125,"l":104,"h":146},{"s":"g","n":15,"v":112,"l":98,"h":125},{"s":"g","n":10,"v":84,"l":62,"h":105},{"s":"g","n":5,"v":56,"l":38,"h":74},
{"s":"f","n":45,"v":190,"l":188,"h":192},{"s":"f","n":40,"v":185,"l":183,"h":187},{"s":"f","n":35,"v":173,"l":171,"h":175},{"s":"f","n":30,"v":158,"l":156,"h":160},{"s":"f","n":25,"v":134,"l":132,"h":136},{"s":"f","n":20,"v":111,"l":109,"h":113},{"s":"f","n":15,"v":80,"l":78,"h":82},{"s":"f","n":10,"v":13,"l":11,"h":15},{"s":"f","n":5,"v":0,"l":0,"h":1},
{"s":"e","n":45,"v":198,"l":196,"h":200},{"s":"e","n":40,"v":195,"l":193,"h":197},{"s":"e","n":35,"v":195,"l":193,"h":197},{"s":"e","n":30,"v":196,"l":194,"h":198},{"s":"e","n":25,"v":183,"l":181,"h":185},{"s":"e","n":20,"v":152,"l":149,"h":155},{"s":"e","n":15,"v":108,"l":105,"h":111},{"s":"e","n":10,"v":28,"l":25,"h":31},{"s":"e","n":5,"v":0,"l":0,"h":1},
{"s":"d","n":45,"v":200,"l":199,"h":200},{"s":"d","n":40,"v":196,"l":194,"h":198},{"s":"d","n":35,"v":195,"l":193,"h":197},{"s":"d","n":30,"v":197,"l":195,"h":199},{"s":"d","n":25,"v":191,"l":189,"h":193},{"s":"d","n":20,"v":173,"l":170,"h":176},{"s":"d","n":15,"v":116,"l":112,"h":120},{"s":"d","n":10,"v":40,"l":36,"h":44},{"s":"d","n":5,"v":0,"l":0,"h":1},
{"s":"c","n":45,"v":193,"l":191,"h":195},{"s":"c","n":40,"v":191,"l":189,"h":193},{"s":"c","n":35,"v":190,"l":188,"h":192},{"s":"c","n":30,"v":184,"l":179,"h":189},{"s":"c","n":25,"v":177,"l":170,"h":184},{"s":"c","n":20,"v":164,"l":153,"h":176},{"s":"c","n":15,"v":133,"l":110,"h":157},{"s":"c","n":10,"v":90,"l":60,"h":123},{"s":"c","n":5,"v":33,"l":15,"h":50},
{"s":"b","n":45,"v":200},{"s":"b","n":40,"v":200},{"s":"b","n":35,"v":200},{"s":"b","n":30,"v":200},{"s":"b","n":25,"v":200},{"s":"b","n":20,"v":200},{"s":"b","n":15,"v":198,"l":196,"h":200},{"s":"b","n":10,"v":183,"l":172,"h":195},{"s":"b","n":5,"v":85,"l":35,"h":135},
{"s":"a","n":45,"v":200},{"s":"a","n":40,"v":200},{"s":"a","n":35,"v":200},{"s":"a","n":30,"v":200},{"s":"a","n":25,"v":200},{"s":"a","n":20,"v":200},{"s":"a","n":15,"v":200},{"s":"a","n":10,"v":200},{"s":"a","n":5,"v":158,"l":120,"h":195}
],
"B2c": [
{"s":"i","n":45,"v":48,"l":33,"h":63},{"s":"i","n":40,"v":41,"l":22,"h":60},{"s":"i","n":35,"v":33,"l":15,"h":52},{"s":"i","n":30,"v":25,"l":7,"h":44},{"s":"i","n":25,"v":20,"l":6,"h":34},{"s":"i","n":20,"v":16,"l":3,"h":30},{"s":"i","n":15,"v":9,"l":5,"h":13},{"s":"i","n":10,"v":9,"l":7,"h":10},{"s":"i","n":5,"v":9,"l":8,"h":10},
{"s":"h","n":45,"v":168,"l":149,"h":186},{"s":"h","n":40,"v":153,"l":125,"h":182},{"s":"h","n":35,"v":144,"l":105,"h":180},{"s":"h","n":30,"v":128,"l":78,"h":178},{"s":"h","n":25,"v":89,"l":36,"h":142},{"s":"h","n":20,"v":88,"l":33,"h":142},{"s":"h","n":15,"v":68,"l":16,"h":115},{"s":"h","n":10,"v":40,"l":7,"h":73},{"s":"h","n":5,"v":12,"l":0,"h":28},
{"s":"g","n":45,"v":188,"l":184,"h":192},{"s":"g","n":40,"v":182,"l":175,"h":188},{"s":"g","n":35,"v":175,"l":166,"h":184},{"s":"g","n":30,"v":168,"l":157,"h":179},{"s":"g","n":25,"v":155,"l":140,"h":173},{"s":"g","n":20,"v":136,"l":117,"h":162},{"s":"g","n":15,"v":113,"l":95,"h":145},{"s":"g","n":10,"v":88,"l":62,"h":114},{"s":"g","n":5,"v":57,"l":28,"h":82},
{"s":"f","n":45,"v":197,"l":196,"h":198},{"s":"f","n":40,"v":194,"l":193,"h":195},{"s":"f","n":35,"v":186,"l":185,"h":187},{"s":"f","n":30,"v":175,"l":174,"h":176},{"s":"f","n":25,"v":158,"l":156,"h":160},{"s":"f","n":20,"v":130,"l":128,"h":132},{"s":"f","n":15,"v":94,"l":92,"h":96},{"s":"f","n":10,"v":20,"l":18,"h":22},{"s":"f","n":5,"v":0,"l":0,"h":1},
{"s":"e","n":45,"v":198,"l":197,"h":199},{"s":"e","n":40,"v":198,"l":197,"h":199},{"s":"e","n":35,"v":198,"l":197,"h":199},{"s":"e","n":30,"v":195,"l":193,"h":197},{"s":"e","n":25,"v":183,"l":180,"h":186},{"s":"e","n":20,"v":155,"l":152,"h":158},{"s":"e","n":15,"v":112,"l":108,"h":116},{"s":"e","n":10,"v":30,"l":27,"h":33},{"s":"e","n":5,"v":0,"l":0,"h":1},
{"s":"d","n":45,"v":200},{"s":"d","n":40,"v":200},{"s":"d","n":35,"v":200},{"s":"d","n":30,"v":199,"l":198,"h":200},{"s":"d","n":25,"v":193,"l":191,"h":195},{"s":"d","n":20,"v":174,"l":171,"h":177},{"s":"d","n":15,"v":128,"l":124,"h":132},{"s":"d","n":10,"v":43,"l":40,"h":46},{"s":"d","n":5,"v":1,"l":0,"h":2},
{"s":"c","n":45,"v":194,"l":190,"h":198},{"s":"c","n":40,"v":188,"l":184,"h":193},{"s":"c","n":35,"v":179,"l":170,"h":188},{"s":"c","n":30,"v":165,"l":150,"h":178},{"s":"c","n":25,"v":139,"l":108,"h":170},{"s":"c","n":20,"v":108,"l":70,"h":147},{"s":"c","n":15,"v":68,"l":24,"h":112},{"s":"c","n":10,"v":38,"l":-5,"h":80},{"s":"c","n":5,"v":17,"l":5,"h":28},
{"s":"b","n":45,"v":200},{"s":"b","n":40,"v":200},{"s":"b","n":35,"v":200},{"s":"b","n":30,"v":200},{"s":"b","n":25,"v":200},{"s":"b","n":20,"v":193,"l":188,"h":199},{"s":"b","n":15,"v":172,"l":137,"h":207},{"s":"b","n":10,"v":107,"l":40,"h":172},{"s":"b","n":5,"v":44,"l":0,"h":96},
{"s":"a","n":45,"v":200},{"s":"a","n":40,"v":200},{"s":"a","n":35,"v":200},{"s":"a","n":30,"v":200},{"s":"a","n":25,"v":200},{"s":"a","n":20,"v":200},{"s":"a","n":15,"v":200},{"s":"a","n":10,"v":193,"l":172,"h":210},{"s":"a","n":5,"v":129,"l":62,"h":195}
],
"B3c": [
{"s":"i","n":45,"v":92,"l":70,"h":115},{"s":"i","n":40,"v":84,"l":60,"h":108},{"s":"i","n":35,"v":68,"l":42,"h":95},{"s":"i","n":30,"v":60,"l":33,"h":88},{"s":"i","n":25,"v":54,"l":27,"h":82},{"s":"i","n":20,"v":41,"l":20,"h":62},{"s":"i","n":15,"v":22,"l":2,"h":42},{"s":"i","n":10,"v":13,"l":3,"h":23},{"s":"i","n":5,"v":10,"l":8,"h":12},
{"s":"h","n":45,"v":169,"l":152,"h":187},{"s":"h","n":40,"v":161,"l":140,"h":183},{"s":"h","n":35,"v":159,"l":120,"h":190},{"s":"h","n":30,"v":156,"l":88,"h":190},{"s":"h","n":25,"v":135,"l":27,"h":190},{"s":"h","n":20,"v":128,"l":22,"h":188},{"s":"h","n":15,"v":113,"l":36,"h":156},{"s":"h","n":10,"v":68,"l":25,"h":112},{"s":"h","n":5,"v":30,"l":10,"h":55},
{"s":"g","n":45,"v":180,"l":170,"h":190},{"s":"g","n":40,"v":173,"l":160,"h":186},{"s":"g","n":35,"v":169,"l":150,"h":187},{"s":"g","n":30,"v":163,"l":135,"h":190},{"s":"g","n":25,"v":148,"l":118,"h":178},{"s":"g","n":20,"v":133,"l":92,"h":174},{"s":"g","n":15,"v":122,"l":88,"h":156},{"s":"g","n":10,"v":92,"l":62,"h":126},{"s":"g","n":5,"v":42,"l":20,"h":64},
{"s":"f","n":45,"v":200,"l":199,"h":200},{"s":"f","n":40,"v":198,"l":197,"h":199},{"s":"f","n":35,"v":193,"l":192,"h":194},{"s":"f","n":30,"v":185,"l":184,"h":186},{"s":"f","n":25,"v":168,"l":166,"h":170},{"s":"f","n":20,"v":138,"l":136,"h":140},{"s":"f","n":15,"v":98,"l":96,"h":100},{"s":"f","n":10,"v":25,"l":23,"h":27},{"s":"f","n":5,"v":1,"l":0,"h":2},
{"s":"e","n":45,"v":200},{"s":"e","n":40,"v":200},{"s":"e","n":35,"v":200},{"s":"e","n":30,"v":199,"l":198,"h":200},{"s":"e","n":25,"v":195,"l":193,"h":197},{"s":"e","n":20,"v":175,"l":172,"h":178},{"s":"e","n":15,"v":128,"l":125,"h":131},{"s":"e","n":10,"v":35,"l":32,"h":38},{"s":"e","n":5,"v":0,"l":0,"h":1},
{"s":"d","n":45,"v":200},{"s":"d","n":40,"v":200},{"s":"d","n":35,"v":200},{"s":"d","n":30,"v":200},{"s":"d","n":25,"v":198,"l":196,"h":200},{"s":"d","n":20,"v":180,"l":177,"h":183},{"s":"d","n":15,"v":134,"l":131,"h":137},{"s":"d","n":10,"v":42,"l":39,"h":45},{"s":"d","n":5,"v":2,"l":0,"h":3},
{"s":"c","n":45,"v":185,"l":176,"h":193},{"s":"c","n":40,"v":168,"l":143,"h":193},{"s":"c","n":35,"v":145,"l":97,"h":193},{"s":"c","n":30,"v":115,"l":53,"h":180},{"s":"c","n":25,"v":87,"l":19,"h":155},{"s":"c","n":20,"v":68,"l":-5,"h":140},{"s":"c","n":15,"v":73,"l":-5,"h":150},{"s":"c","n":10,"v":30,"l":0,"h":62},{"s":"c","n":5,"v":15,"l":8,"h":22},
{"s":"b","n":45,"v":200},{"s":"b","n":40,"v":200},{"s":"b","n":35,"v":200},{"s":"b","n":30,"v":200},{"s":"b","n":25,"v":198,"l":180,"h":207},{"s":"b","n":20,"v":178,"l":137,"h":200},{"s":"b","n":15,"v":135,"l":70,"h":200},{"s":"b","n":10,"v":82,"l":0,"h":170},{"s":"b","n":5,"v":30,"l":0,"h":72},
{"s":"a","n":45,"v":200},{"s":"a","n":40,"v":200},{"s":"a","n":35,"v":200},{"s":"a","n":30,"v":200},{"s":"a","n":25,"v":200},{"s":"a","n":20,"v":200},{"s":"a","n":15,"v":196,"l":185,"h":207},{"s":"a","n":10,"v":158,"l":100,"h":215},{"s":"a","n":5,"v":72,"l":-5,"h":157}
]
},
"spacing": 15,
"vconcat": [
{"spacing": 4, "vconcat": [
 {"spacing": 20, "hconcat": [
  {"width": 171, "height": 157, "data": {"name": "A1"}, "layer": [
   {"mark": {"type": "rule", "strokeWidth": 2.5, "clip": true}, "encoding": {"x": {"field": "n", "type": "quantitative", "scale": {"domain": [46, 4], "nice": false, "zero": false}, "axis": {"title": "sample size", "labelOverlap": false, "tickCount": 20, "values": [45,40,35,30,25,20,15,10,5]}}, "y": {"field": "l", "type": "quantitative", "scale": {"domain": [-0.035, 1.035], "nice": false, "zero": false}, "axis": {"title": "power", "labelOverlap": false, "tickCount": 20, "values": [0,0.2,0.4,0.6,0.8,1], "format": ".1f"}}, "y2": {"field": "h"}, "color": {"field": "s", "type": "nominal", "scale": {"domain": ["a","b","c","d","e","f","g","h","i"], "range": ["#1c2a7a","#4c5fb4","#88c9eb","#1f5e2e","#5cb833","#b6dd9c","#7c1418","#e3222a","#e640a0"]}, "legend": null}}},
   {"mark": {"type": "tick", "orient": "horizontal", "size": 8, "thickness": 2.5, "opacity": 1, "clip": true}, "encoding": {"x": {"field": "n", "type": "quantitative", "scale": {"domain": [46, 4], "nice": false, "zero": false}, "axis": {"title": "sample size", "labelOverlap": false, "tickCount": 20, "values": [45,40,35,30,25,20,15,10,5]}}, "y": {"field": "l", "type": "quantitative", "scale": {"domain": [-0.035, 1.035], "nice": false, "zero": false}, "axis": {"title": "power", "labelOverlap": false, "tickCount": 20, "values": [0,0.2,0.4,0.6,0.8,1], "format": ".1f"}}, "color": {"field": "s", "type": "nominal", "scale": {"domain": ["a","b","c","d","e","f","g","h","i"], "range": ["#1c2a7a","#4c5fb4","#88c9eb","#1f5e2e","#5cb833","#b6dd9c","#7c1418","#e3222a","#e640a0"]}, "legend": null}}},
   {"mark": {"type": "tick", "orient": "horizontal", "size": 8, "thickness": 2.5, "opacity": 1, "clip": true}, "encoding": {"x": {"field": "n", "type": "quantitative", "scale": {"domain": [46, 4], "nice": false, "zero": false}, "axis": {"title": "sample size", "labelOverlap": false, "tickCount": 20, "values": [45,40,35,30,25,20,15,10,5]}}, "y": {"field": "h", "type": "quantitative", "scale": {"domain": [-0.035, 1.035], "nice": false, "zero": false}, "axis": {"title": "power", "labelOverlap": false, "tickCount": 20, "values": [0,0.2,0.4,0.6,0.8,1], "format": ".1f"}}, "color": {"field": "s", "type": "nominal", "scale": {"domain": ["a","b","c","d","e","f","g","h","i"], "range": ["#1c2a7a","#4c5fb4","#88c9eb","#1f5e2e","#5cb833","#b6dd9c","#7c1418","#e3222a","#e640a0"]}, "legend": null}}},
   {"mark": {"type": "line", "strokeWidth": 3, "clip": true}, "encoding": {"x": {"field": "n", "type": "quantitative", "scale": {"domain": [46, 4], "nice": false, "zero": false}, "axis": {"title": "sample size", "labelOverlap": false, "tickCount": 20, "values": [45,40,35,30,25,20,15,10,5]}}, "y": {"field": "v", "type": "quantitative", "scale": {"domain": [-0.035, 1.035], "nice": false, "zero": false}, "axis": {"title": "power", "labelOverlap": false, "tickCount": 20, "values": [0,0.2,0.4,0.6,0.8,1], "format": ".1f"}}, "color": {"field": "s", "type": "nominal", "scale": {"domain": ["a","b","c","d","e","f","g","h","i"], "range": ["#1c2a7a","#4c5fb4","#88c9eb","#1f5e2e","#5cb833","#b6dd9c","#7c1418","#e3222a","#e640a0"]}, "legend": null}}},
   {"mark": {"type": "point", "filled": true, "size": 22, "opacity": 1, "clip": true}, "encoding": {"x": {"field": "n", "type": "quantitative", "scale": {"domain": [46, 4], "nice": false, "zero": false}, "axis": {"title": "sample size", "labelOverlap": false, "tickCount": 20, "values": [45,40,35,30,25,20,15,10,5]}}, "y": {"field": "v", "type": "quantitative", "scale": {"domain": [-0.035, 1.035], "nice": false, "zero": false}, "axis": {"title": "power", "labelOverlap": false, "tickCount": 20, "values": [0,0.2,0.4,0.6,0.8,1], "format": ".1f"}}, "color": {"field": "s", "type": "nominal", "scale": {"domain": ["a","b","c","d","e","f","g","h","i"], "range": ["#1c2a7a","#4c5fb4","#88c9eb","#1f5e2e","#5cb833","#b6dd9c","#7c1418","#e3222a","#e640a0"]}, "legend": null}}},
   {"transform": [{"filter": "datum.s == 'e' && datum.n == 45"}], "mark": {"type": "text", "text": "ρ = 0.0", "fontSize": 7.5, "align": "left", "baseline": "middle", "color": "#333"}, "encoding": {"x": {"datum": 44.7, "type": "quantitative"}, "y": {"datum": 0.64, "type": "quantitative"}}},
   {"transform": [{"filter": "datum.s == 'e' && datum.n == 45"}], "mark": {"type": "text", "text": "A", "fontSize": 17, "fontWeight": "bold", "align": "center", "baseline": "middle", "color": "#000"}, "encoding": {"x": {"datum": 52.4, "type": "quantitative"}, "y": {"datum": 0.99, "type": "quantitative"}}}
  ]},
  {"width": 171, "height": 157, "data": {"name": "A2"}, "layer": [
   {"mark": {"type": "rule", "strokeWidth": 2.5, "clip": true}, "encoding": {"x": {"field": "n", "type": "quantitative", "scale": {"domain": [46, 4], "nice": false, "zero": false}, "axis": {"title": "sample size", "labelOverlap": false, "tickCount": 20, "values": [45,40,35,30,25,20,15,10,5]}}, "y": {"field": "l", "type": "quantitative", "scale": {"domain": [-0.021, 0.621], "nice": false, "zero": false}, "axis": {"title": "FPR", "labelOverlap": false, "tickCount": 20, "values": [0,0.1,0.2,0.3,0.4,0.5,0.6], "format": ".1f"}}, "y2": {"field": "h"}, "color": {"field": "s", "type": "nominal", "scale": {"domain": ["a","b","c","d","e","f","g","h","i"], "range": ["#1c2a7a","#4c5fb4","#88c9eb","#1f5e2e","#5cb833","#b6dd9c","#7c1418","#e3222a","#e640a0"]}, "legend": null}}},
   {"mark": {"type": "tick", "orient": "horizontal", "size": 8, "thickness": 2.5, "opacity": 1, "clip": true}, "encoding": {"x": {"field": "n", "type": "quantitative", "scale": {"domain": [46, 4], "nice": false, "zero": false}, "axis": {"title": "sample size", "labelOverlap": false, "tickCount": 20, "values": [45,40,35,30,25,20,15,10,5]}}, "y": {"field": "l", "type": "quantitative", "scale": {"domain": [-0.021, 0.621], "nice": false, "zero": false}, "axis": {"title": "FPR", "labelOverlap": false, "tickCount": 20, "values": [0,0.1,0.2,0.3,0.4,0.5,0.6], "format": ".1f"}}, "color": {"field": "s", "type": "nominal", "scale": {"domain": ["a","b","c","d","e","f","g","h","i"], "range": ["#1c2a7a","#4c5fb4","#88c9eb","#1f5e2e","#5cb833","#b6dd9c","#7c1418","#e3222a","#e640a0"]}, "legend": null}}},
   {"mark": {"type": "tick", "orient": "horizontal", "size": 8, "thickness": 2.5, "opacity": 1, "clip": true}, "encoding": {"x": {"field": "n", "type": "quantitative", "scale": {"domain": [46, 4], "nice": false, "zero": false}, "axis": {"title": "sample size", "labelOverlap": false, "tickCount": 20, "values": [45,40,35,30,25,20,15,10,5]}}, "y": {"field": "h", "type": "quantitative", "scale": {"domain": [-0.021, 0.621], "nice": false, "zero": false}, "axis": {"title": "FPR", "labelOverlap": false, "tickCount": 20, "values": [0,0.1,0.2,0.3,0.4,0.5,0.6], "format": ".1f"}}, "color": {"field": "s", "type": "nominal", "scale": {"domain": ["a","b","c","d","e","f","g","h","i"], "range": ["#1c2a7a","#4c5fb4","#88c9eb","#1f5e2e","#5cb833","#b6dd9c","#7c1418","#e3222a","#e640a0"]}, "legend": null}}},
   {"mark": {"type": "line", "strokeWidth": 3, "clip": true}, "encoding": {"x": {"field": "n", "type": "quantitative", "scale": {"domain": [46, 4], "nice": false, "zero": false}, "axis": {"title": "sample size", "labelOverlap": false, "tickCount": 20, "values": [45,40,35,30,25,20,15,10,5]}}, "y": {"field": "v", "type": "quantitative", "scale": {"domain": [-0.021, 0.621], "nice": false, "zero": false}, "axis": {"title": "FPR", "labelOverlap": false, "tickCount": 20, "values": [0,0.1,0.2,0.3,0.4,0.5,0.6], "format": ".1f"}}, "color": {"field": "s", "type": "nominal", "scale": {"domain": ["a","b","c","d","e","f","g","h","i"], "range": ["#1c2a7a","#4c5fb4","#88c9eb","#1f5e2e","#5cb833","#b6dd9c","#7c1418","#e3222a","#e640a0"]}, "legend": null}}},
   {"mark": {"type": "point", "filled": true, "size": 22, "opacity": 1, "clip": true}, "encoding": {"x": {"field": "n", "type": "quantitative", "scale": {"domain": [46, 4], "nice": false, "zero": false}, "axis": {"title": "sample size", "labelOverlap": false, "tickCount": 20, "values": [45,40,35,30,25,20,15,10,5]}}, "y": {"field": "v", "type": "quantitative", "scale": {"domain": [-0.021, 0.621], "nice": false, "zero": false}, "axis": {"title": "FPR", "labelOverlap": false, "tickCount": 20, "values": [0,0.1,0.2,0.3,0.4,0.5,0.6], "format": ".1f"}}, "color": {"field": "s", "type": "nominal", "scale": {"domain": ["a","b","c","d","e","f","g","h","i"], "range": ["#1c2a7a","#4c5fb4","#88c9eb","#1f5e2e","#5cb833","#b6dd9c","#7c1418","#e3222a","#e640a0"]}, "legend": null}}},
   {"transform": [{"filter": "datum.s == 'e' && datum.n == 45"}], "mark": {"type": "rule", "strokeDash": [5, 3], "strokeWidth": 1, "color": "#111"}, "encoding": {"x": {"datum": 46, "type": "quantitative"}, "x2": {"datum": 4}, "y": {"datum": 0.05, "type": "quantitative"}}},
   {"transform": [{"filter": "datum.s == 'e' && datum.n == 45"}], "mark": {"type": "text", "text": "ρ = 0.0", "fontSize": 7.5, "align": "left", "baseline": "middle", "color": "#333"}, "encoding": {"x": {"datum": 44.7, "type": "quantitative"}, "y": {"datum": 0.377, "type": "quantitative"}}}
  ]},
  {"width": 171, "height": 157, "data": {"name": "A3"}, "layer": [
   {"mark": {"type": "rule", "strokeWidth": 2.5, "clip": true}, "encoding": {"x": {"field": "n", "type": "quantitative", "scale": {"domain": [46, 4], "nice": false, "zero": false}, "axis": {"title": "sample size", "labelOverlap": false, "tickCount": 20, "values": [45,40,35,30,25,20,15,10,5]}}, "y": {"field": "l", "type": "quantitative", "scale": {"domain": [-7, 207], "nice": false, "zero": false}, "axis": {"title": "no of significant pathways", "labelOverlap": false, "tickCount": 20, "values": [0,50,100,150,200], "format": "d"}}, "y2": {"field": "h"}, "color": {"field": "s", "type": "nominal", "scale": {"domain": ["a","b","c","d","e","f","g","h","i"], "range": ["#1c2a7a","#4c5fb4","#88c9eb","#1f5e2e","#5cb833","#b6dd9c","#7c1418","#e3222a","#e640a0"]}, "legend": null}}},
   {"mark": {"type": "tick", "orient": "horizontal", "size": 8, "thickness": 2.5, "opacity": 1, "clip": true}, "encoding": {"x": {"field": "n", "type": "quantitative", "scale": {"domain": [46, 4], "nice": false, "zero": false}, "axis": {"title": "sample size", "labelOverlap": false, "tickCount": 20, "values": [45,40,35,30,25,20,15,10,5]}}, "y": {"field": "l", "type": "quantitative", "scale": {"domain": [-7, 207], "nice": false, "zero": false}, "axis": {"title": "no of significant pathways", "labelOverlap": false, "tickCount": 20, "values": [0,50,100,150,200], "format": "d"}}, "color": {"field": "s", "type": "nominal", "scale": {"domain": ["a","b","c","d","e","f","g","h","i"], "range": ["#1c2a7a","#4c5fb4","#88c9eb","#1f5e2e","#5cb833","#b6dd9c","#7c1418","#e3222a","#e640a0"]}, "legend": null}}},
   {"mark": {"type": "tick", "orient": "horizontal", "size": 8, "thickness": 2.5, "opacity": 1, "clip": true}, "encoding": {"x": {"field": "n", "type": "quantitative", "scale": {"domain": [46, 4], "nice": false, "zero": false}, "axis": {"title": "sample size", "labelOverlap": false, "tickCount": 20, "values": [45,40,35,30,25,20,15,10,5]}}, "y": {"field": "h", "type": "quantitative", "scale": {"domain": [-7, 207], "nice": false, "zero": false}, "axis": {"title": "no of significant pathways", "labelOverlap": false, "tickCount": 20, "values": [0,50,100,150,200], "format": "d"}}, "color": {"field": "s", "type": "nominal", "scale": {"domain": ["a","b","c","d","e","f","g","h","i"], "range": ["#1c2a7a","#4c5fb4","#88c9eb","#1f5e2e","#5cb833","#b6dd9c","#7c1418","#e3222a","#e640a0"]}, "legend": null}}},
   {"mark": {"type": "line", "strokeWidth": 3, "clip": true}, "encoding": {"x": {"field": "n", "type": "quantitative", "scale": {"domain": [46, 4], "nice": false, "zero": false}, "axis": {"title": "sample size", "labelOverlap": false, "tickCount": 20, "values": [45,40,35,30,25,20,15,10,5]}}, "y": {"field": "v", "type": "quantitative", "scale": {"domain": [-7, 207], "nice": false, "zero": false}, "axis": {"title": "no of significant pathways", "labelOverlap": false, "tickCount": 20, "values": [0,50,100,150,200], "format": "d"}}, "color": {"field": "s", "type": "nominal", "scale": {"domain": ["a","b","c","d","e","f","g","h","i"], "range": ["#1c2a7a","#4c5fb4","#88c9eb","#1f5e2e","#5cb833","#b6dd9c","#7c1418","#e3222a","#e640a0"]}, "legend": null}}},
   {"mark": {"type": "point", "filled": true, "size": 22, "opacity": 1, "clip": true}, "encoding": {"x": {"field": "n", "type": "quantitative", "scale": {"domain": [46, 4], "nice": false, "zero": false}, "axis": {"title": "sample size", "labelOverlap": false, "tickCount": 20, "values": [45,40,35,30,25,20,15,10,5]}}, "y": {"field": "v", "type": "quantitative", "scale": {"domain": [-7, 207], "nice": false, "zero": false}, "axis": {"title": "no of significant pathways", "labelOverlap": false, "tickCount": 20, "values": [0,50,100,150,200], "format": "d"}}, "color": {"field": "s", "type": "nominal", "scale": {"domain": ["a","b","c","d","e","f","g","h","i"], "range": ["#1c2a7a","#4c5fb4","#88c9eb","#1f5e2e","#5cb833","#b6dd9c","#7c1418","#e3222a","#e640a0"]}, "legend": null}}},
   {"transform": [{"filter": "datum.s == 'e' && datum.n == 45"}], "mark": {"type": "text", "text": "ρ = 0.0", "fontSize": 7.5, "align": "left", "baseline": "middle", "color": "#333"}, "encoding": {"x": {"datum": 44.7, "type": "quantitative"}, "y": {"datum": 125, "type": "quantitative"}}}
  ]}
 ]},
 {"width": 613, "height": 1, "view": {"stroke": null}, "data": {"values": [{"t": 1}]}, "mark": {"type": "rule", "strokeWidth": 3, "color": "#000"}, "encoding": {"x": {"datum": -0.023, "type": "quantitative", "scale": {"domain": [0, 1]}, "axis": null}, "x2": {"datum": 1.013}, "y": {"value": 0}}}
]},
{"spacing": 9, "vconcat": [
 {"spacing": 20, "hconcat": [
  {"width": 171, "height": 157, "data": {"name": "B1p"}, "layer": [
   {"mark": {"type": "rule", "strokeWidth": 2.5, "clip": true}, "encoding": {"x": {"field": "n", "type": "quantitative", "scale": {"domain": [46, 4], "nice": false, "zero": false}, "axis": {"title": "sample size", "labelOverlap": false, "tickCount": 20, "values": [45,40,35,30,25,20,15,10,5]}}, "y": {"field": "l", "type": "quantitative", "scale": {"domain": [-0.035, 1.035], "nice": false, "zero": false}, "axis": {"title": "power", "labelOverlap": false, "tickCount": 20, "values": [0,0.2,0.4,0.6,0.8,1], "format": ".1f"}}, "y2": {"field": "h"}, "color": {"field": "s", "type": "nominal", "scale": {"domain": ["a","b","c","d","e","f","g","h","i"], "range": ["#1c2a7a","#4c5fb4","#88c9eb","#1f5e2e","#5cb833","#b6dd9c","#7c1418","#e3222a","#e640a0"]}, "legend": null}}},
   {"mark": {"type": "tick", "orient": "horizontal", "size": 8, "thickness": 2.5, "opacity": 1, "clip": true}, "encoding": {"x": {"field": "n", "type": "quantitative", "scale": {"domain": [46, 4], "nice": false, "zero": false}, "axis": {"title": "sample size", "labelOverlap": false, "tickCount": 20, "values": [45,40,35,30,25,20,15,10,5]}}, "y": {"field": "l", "type": "quantitative", "scale": {"domain": [-0.035, 1.035], "nice": false, "zero": false}, "axis": {"title": "power", "labelOverlap": false, "tickCount": 20, "values": [0,0.2,0.4,0.6,0.8,1], "format": ".1f"}}, "color": {"field": "s", "type": "nominal", "scale": {"domain": ["a","b","c","d","e","f","g","h","i"], "range": ["#1c2a7a","#4c5fb4","#88c9eb","#1f5e2e","#5cb833","#b6dd9c","#7c1418","#e3222a","#e640a0"]}, "legend": null}}},
   {"mark": {"type": "tick", "orient": "horizontal", "size": 8, "thickness": 2.5, "opacity": 1, "clip": true}, "encoding": {"x": {"field": "n", "type": "quantitative", "scale": {"domain": [46, 4], "nice": false, "zero": false}, "axis": {"title": "sample size", "labelOverlap": false, "tickCount": 20, "values": [45,40,35,30,25,20,15,10,5]}}, "y": {"field": "h", "type": "quantitative", "scale": {"domain": [-0.035, 1.035], "nice": false, "zero": false}, "axis": {"title": "power", "labelOverlap": false, "tickCount": 20, "values": [0,0.2,0.4,0.6,0.8,1], "format": ".1f"}}, "color": {"field": "s", "type": "nominal", "scale": {"domain": ["a","b","c","d","e","f","g","h","i"], "range": ["#1c2a7a","#4c5fb4","#88c9eb","#1f5e2e","#5cb833","#b6dd9c","#7c1418","#e3222a","#e640a0"]}, "legend": null}}},
   {"mark": {"type": "line", "strokeWidth": 3, "clip": true}, "encoding": {"x": {"field": "n", "type": "quantitative", "scale": {"domain": [46, 4], "nice": false, "zero": false}, "axis": {"title": "sample size", "labelOverlap": false, "tickCount": 20, "values": [45,40,35,30,25,20,15,10,5]}}, "y": {"field": "v", "type": "quantitative", "scale": {"domain": [-0.035, 1.035], "nice": false, "zero": false}, "axis": {"title": "power", "labelOverlap": false, "tickCount": 20, "values": [0,0.2,0.4,0.6,0.8,1], "format": ".1f"}}, "color": {"field": "s", "type": "nominal", "scale": {"domain": ["a","b","c","d","e","f","g","h","i"], "range": ["#1c2a7a","#4c5fb4","#88c9eb","#1f5e2e","#5cb833","#b6dd9c","#7c1418","#e3222a","#e640a0"]}, "legend": null}}},
   {"mark": {"type": "point", "filled": true, "size": 22, "opacity": 1, "clip": true}, "encoding": {"x": {"field": "n", "type": "quantitative", "scale": {"domain": [46, 4], "nice": false, "zero": false}, "axis": {"title": "sample size", "labelOverlap": false, "tickCount": 20, "values": [45,40,35,30,25,20,15,10,5]}}, "y": {"field": "v", "type": "quantitative", "scale": {"domain": [-0.035, 1.035], "nice": false, "zero": false}, "axis": {"title": "power", "labelOverlap": false, "tickCount": 20, "values": [0,0.2,0.4,0.6,0.8,1], "format": ".1f"}}, "color": {"field": "s", "type": "nominal", "scale": {"domain": ["a","b","c","d","e","f","g","h","i"], "range": ["#1c2a7a","#4c5fb4","#88c9eb","#1f5e2e","#5cb833","#b6dd9c","#7c1418","#e3222a","#e640a0"]}, "legend": null}}},
   {"transform": [{"filter": "datum.s == 'e' && datum.n == 45"}], "mark": {"type": "text", "text": "ρ = 0.2", "fontSize": 7.5, "align": "left", "baseline": "middle", "color": "#333"}, "encoding": {"x": {"datum": 44.7, "type": "quantitative"}, "y": {"datum": 0.606, "type": "quantitative"}}},
   {"transform": [{"filter": "datum.s == 'e' && datum.n == 45"}], "mark": {"type": "text", "text": "B", "fontSize": 17, "fontWeight": "bold", "align": "center", "baseline": "middle", "color": "#000"}, "encoding": {"x": {"datum": 52.4, "type": "quantitative"}, "y": {"datum": 0.974, "type": "quantitative"}}}
  ]},
  {"width": 171, "height": 157, "data": {"name": "B2p"}, "layer": [
   {"mark": {"type": "rule", "strokeWidth": 2.5, "clip": true}, "encoding": {"x": {"field": "n", "type": "quantitative", "scale": {"domain": [46, 4], "nice": false, "zero": false}, "axis": {"title": "sample size", "labelOverlap": false, "tickCount": 20, "values": [45,40,35,30,25,20,15,10,5]}}, "y": {"field": "l", "type": "quantitative", "scale": {"domain": [-0.035, 1.035], "nice": false, "zero": false}, "axis": {"title": "power", "labelOverlap": false, "tickCount": 20, "values": [0,0.2,0.4,0.6,0.8,1], "format": ".1f"}}, "y2": {"field": "h"}, "color": {"field": "s", "type": "nominal", "scale": {"domain": ["a","b","c","d","e","f","g","h","i"], "range": ["#1c2a7a","#4c5fb4","#88c9eb","#1f5e2e","#5cb833","#b6dd9c","#7c1418","#e3222a","#e640a0"]}, "legend": null}}},
   {"mark": {"type": "tick", "orient": "horizontal", "size": 8, "thickness": 2.5, "opacity": 1, "clip": true}, "encoding": {"x": {"field": "n", "type": "quantitative", "scale": {"domain": [46, 4], "nice": false, "zero": false}, "axis": {"title": "sample size", "labelOverlap": false, "tickCount": 20, "values": [45,40,35,30,25,20,15,10,5]}}, "y": {"field": "l", "type": "quantitative", "scale": {"domain": [-0.035, 1.035], "nice": false, "zero": false}, "axis": {"title": "power", "labelOverlap": false, "tickCount": 20, "values": [0,0.2,0.4,0.6,0.8,1], "format": ".1f"}}, "color": {"field": "s", "type": "nominal", "scale": {"domain": ["a","b","c","d","e","f","g","h","i"], "range": ["#1c2a7a","#4c5fb4","#88c9eb","#1f5e2e","#5cb833","#b6dd9c","#7c1418","#e3222a","#e640a0"]}, "legend": null}}},
   {"mark": {"type": "tick", "orient": "horizontal", "size": 8, "thickness": 2.5, "opacity": 1, "clip": true}, "encoding": {"x": {"field": "n", "type": "quantitative", "scale": {"domain": [46, 4], "nice": false, "zero": false}, "axis": {"title": "sample size", "labelOverlap": false, "tickCount": 20, "values": [45,40,35,30,25,20,15,10,5]}}, "y": {"field": "h", "type": "quantitative", "scale": {"domain": [-0.035, 1.035], "nice": false, "zero": false}, "axis": {"title": "power", "labelOverlap": false, "tickCount": 20, "values": [0,0.2,0.4,0.6,0.8,1], "format": ".1f"}}, "color": {"field": "s", "type": "nominal", "scale": {"domain": ["a","b","c","d","e","f","g","h","i"], "range": ["#1c2a7a","#4c5fb4","#88c9eb","#1f5e2e","#5cb833","#b6dd9c","#7c1418","#e3222a","#e640a0"]}, "legend": null}}},
   {"mark": {"type": "line", "strokeWidth": 3, "clip": true}, "encoding": {"x": {"field": "n", "type": "quantitative", "scale": {"domain": [46, 4], "nice": false, "zero": false}, "axis": {"title": "sample size", "labelOverlap": false, "tickCount": 20, "values": [45,40,35,30,25,20,15,10,5]}}, "y": {"field": "v", "type": "quantitative", "scale": {"domain": [-0.035, 1.035], "nice": false, "zero": false}, "axis": {"title": "power", "labelOverlap": false, "tickCount": 20, "values": [0,0.2,0.4,0.6,0.8,1], "format": ".1f"}}, "color": {"field": "s", "type": "nominal", "scale": {"domain": ["a","b","c","d","e","f","g","h","i"], "range": ["#1c2a7a","#4c5fb4","#88c9eb","#1f5e2e","#5cb833","#b6dd9c","#7c1418","#e3222a","#e640a0"]}, "legend": null}}},
   {"mark": {"type": "point", "filled": true, "size": 22, "opacity": 1, "clip": true}, "encoding": {"x": {"field": "n", "type": "quantitative", "scale": {"domain": [46, 4], "nice": false, "zero": false}, "axis": {"title": "sample size", "labelOverlap": false, "tickCount": 20, "values": [45,40,35,30,25,20,15,10,5]}}, "y": {"field": "v", "type": "quantitative", "scale": {"domain": [-0.035, 1.035], "nice": false, "zero": false}, "axis": {"title": "power", "labelOverlap": false, "tickCount": 20, "values": [0,0.2,0.4,0.6,0.8,1], "format": ".1f"}}, "color": {"field": "s", "type": "nominal", "scale": {"domain": ["a","b","c","d","e","f","g","h","i"], "range": ["#1c2a7a","#4c5fb4","#88c9eb","#1f5e2e","#5cb833","#b6dd9c","#7c1418","#e3222a","#e640a0"]}, "legend": null}}},
   {"transform": [{"filter": "datum.s == 'e' && datum.n == 45"}], "mark": {"type": "text", "text": "ρ = 0.4", "fontSize": 7.5, "align": "left", "baseline": "middle", "color": "#333"}, "encoding": {"x": {"datum": 44.7, "type": "quantitative"}, "y": {"datum": 0.595, "type": "quantitative"}}}
  ]},
  {"width": 171, "height": 157, "data": {"name": "B3p"}, "layer": [
   {"mark": {"type": "rule", "strokeWidth": 2.5, "clip": true}, "encoding": {"x": {"field": "n", "type": "quantitative", "scale": {"domain": [46, 4], "nice": false, "zero": false}, "axis": {"title": "sample size", "labelOverlap": false, "tickCount": 20, "values": [45,40,35,30,25,20,15,10,5]}}, "y": {"field": "l", "type": "quantitative", "scale": {"domain": [-0.035, 1.035], "nice": false, "zero": false}, "axis": {"title": "power", "labelOverlap": false, "tickCount": 20, "values": [0,0.2,0.4,0.6,0.8,1], "format": ".1f"}}, "y2": {"field": "h"}, "color": {"field": "s", "type": "nominal", "scale": {"domain": ["a","b","c","d","e","f","g","h","i"], "range": ["#1c2a7a","#4c5fb4","#88c9eb","#1f5e2e","#5cb833","#b6dd9c","#7c1418","#e3222a","#e640a0"]}, "legend": null}}},
   {"mark": {"type": "tick", "orient": "horizontal", "size": 8, "thickness": 2.5, "opacity": 1, "clip": true}, "encoding": {"x": {"field": "n", "type": "quantitative", "scale": {"domain": [46, 4], "nice": false, "zero": false}, "axis": {"title": "sample size", "labelOverlap": false, "tickCount": 20, "values": [45,40,35,30,25,20,15,10,5]}}, "y": {"field": "l", "type": "quantitative", "scale": {"domain": [-0.035, 1.035], "nice": false, "zero": false}, "axis": {"title": "power", "labelOverlap": false, "tickCount": 20, "values": [0,0.2,0.4,0.6,0.8,1], "format": ".1f"}}, "color": {"field": "s", "type": "nominal", "scale": {"domain": ["a","b","c","d","e","f","g","h","i"], "range": ["#1c2a7a","#4c5fb4","#88c9eb","#1f5e2e","#5cb833","#b6dd9c","#7c1418","#e3222a","#e640a0"]}, "legend": null}}},
   {"mark": {"type": "tick", "orient": "horizontal", "size": 8, "thickness": 2.5, "opacity": 1, "clip": true}, "encoding": {"x": {"field": "n", "type": "quantitative", "scale": {"domain": [46, 4], "nice": false, "zero": false}, "axis": {"title": "sample size", "labelOverlap": false, "tickCount": 20, "values": [45,40,35,30,25,20,15,10,5]}}, "y": {"field": "h", "type": "quantitative", "scale": {"domain": [-0.035, 1.035], "nice": false, "zero": false}, "axis": {"title": "power", "labelOverlap": false, "tickCount": 20, "values": [0,0.2,0.4,0.6,0.8,1], "format": ".1f"}}, "color": {"field": "s", "type": "nominal", "scale": {"domain": ["a","b","c","d","e","f","g","h","i"], "range": ["#1c2a7a","#4c5fb4","#88c9eb","#1f5e2e","#5cb833","#b6dd9c","#7c1418","#e3222a","#e640a0"]}, "legend": null}}},
   {"mark": {"type": "line", "strokeWidth": 3, "clip": true}, "encoding": {"x": {"field": "n", "type": "quantitative", "scale": {"domain": [46, 4], "nice": false, "zero": false}, "axis": {"title": "sample size", "labelOverlap": false, "tickCount": 20, "values": [45,40,35,30,25,20,15,10,5]}}, "y": {"field": "v", "type": "quantitative", "scale": {"domain": [-0.035, 1.035], "nice": false, "zero": false}, "axis": {"title": "power", "labelOverlap": false, "tickCount": 20, "values": [0,0.2,0.4,0.6,0.8,1], "format": ".1f"}}, "color": {"field": "s", "type": "nominal", "scale": {"domain": ["a","b","c","d","e","f","g","h","i"], "range": ["#1c2a7a","#4c5fb4","#88c9eb","#1f5e2e","#5cb833","#b6dd9c","#7c1418","#e3222a","#e640a0"]}, "legend": null}}},
   {"mark": {"type": "point", "filled": true, "size": 22, "opacity": 1, "clip": true}, "encoding": {"x": {"field": "n", "type": "quantitative", "scale": {"domain": [46, 4], "nice": false, "zero": false}, "axis": {"title": "sample size", "labelOverlap": false, "tickCount": 20, "values": [45,40,35,30,25,20,15,10,5]}}, "y": {"field": "v", "type": "quantitative", "scale": {"domain": [-0.035, 1.035], "nice": false, "zero": false}, "axis": {"title": "power", "labelOverlap": false, "tickCount": 20, "values": [0,0.2,0.4,0.6,0.8,1], "format": ".1f"}}, "color": {"field": "s", "type": "nominal", "scale": {"domain": ["a","b","c","d","e","f","g","h","i"], "range": ["#1c2a7a","#4c5fb4","#88c9eb","#1f5e2e","#5cb833","#b6dd9c","#7c1418","#e3222a","#e640a0"]}, "legend": null}}},
   {"transform": [{"filter": "datum.s == 'e' && datum.n == 45"}], "mark": {"type": "text", "text": "ρ = 0.6", "fontSize": 7.5, "align": "left", "baseline": "middle", "color": "#333"}, "encoding": {"x": {"datum": 44.7, "type": "quantitative"}, "y": {"datum": 0.64, "type": "quantitative"}}}
  ]}
 ]},
 {"spacing": 20, "hconcat": [
  {"width": 171, "height": 157, "data": {"name": "B1f"}, "layer": [
   {"mark": {"type": "rule", "strokeWidth": 2.5, "clip": true}, "encoding": {"x": {"field": "n", "type": "quantitative", "scale": {"domain": [46, 4], "nice": false, "zero": false}, "axis": {"title": "sample size", "labelOverlap": false, "tickCount": 20, "values": [45,40,35,30,25,20,15,10,5]}}, "y": {"field": "l", "type": "quantitative", "scale": {"domain": [-0.021, 0.621], "nice": false, "zero": false}, "axis": {"title": "FPR", "labelOverlap": false, "tickCount": 20, "values": [0,0.1,0.2,0.3,0.4,0.5,0.6], "format": ".1f"}}, "y2": {"field": "h"}, "color": {"field": "s", "type": "nominal", "scale": {"domain": ["a","b","c","d","e","f","g","h","i"], "range": ["#1c2a7a","#4c5fb4","#88c9eb","#1f5e2e","#5cb833","#b6dd9c","#7c1418","#e3222a","#e640a0"]}, "legend": null}}},
   {"mark": {"type": "tick", "orient": "horizontal", "size": 8, "thickness": 2.5, "opacity": 1, "clip": true}, "encoding": {"x": {"field": "n", "type": "quantitative", "scale": {"domain": [46, 4], "nice": false, "zero": false}, "axis": {"title": "sample size", "labelOverlap": false, "tickCount": 20, "values": [45,40,35,30,25,20,15,10,5]}}, "y": {"field": "l", "type": "quantitative", "scale": {"domain": [-0.021, 0.621], "nice": false, "zero": false}, "axis": {"title": "FPR", "labelOverlap": false, "tickCount": 20, "values": [0,0.1,0.2,0.3,0.4,0.5,0.6], "format": ".1f"}}, "color": {"field": "s", "type": "nominal", "scale": {"domain": ["a","b","c","d","e","f","g","h","i"], "range": ["#1c2a7a","#4c5fb4","#88c9eb","#1f5e2e","#5cb833","#b6dd9c","#7c1418","#e3222a","#e640a0"]}, "legend": null}}},
   {"mark": {"type": "tick", "orient": "horizontal", "size": 8, "thickness": 2.5, "opacity": 1, "clip": true}, "encoding": {"x": {"field": "n", "type": "quantitative", "scale": {"domain": [46, 4], "nice": false, "zero": false}, "axis": {"title": "sample size", "labelOverlap": false, "tickCount": 20, "values": [45,40,35,30,25,20,15,10,5]}}, "y": {"field": "h", "type": "quantitative", "scale": {"domain": [-0.021, 0.621], "nice": false, "zero": false}, "axis": {"title": "FPR", "labelOverlap": false, "tickCount": 20, "values": [0,0.1,0.2,0.3,0.4,0.5,0.6], "format": ".1f"}}, "color": {"field": "s", "type": "nominal", "scale": {"domain": ["a","b","c","d","e","f","g","h","i"], "range": ["#1c2a7a","#4c5fb4","#88c9eb","#1f5e2e","#5cb833","#b6dd9c","#7c1418","#e3222a","#e640a0"]}, "legend": null}}},
   {"mark": {"type": "line", "strokeWidth": 3, "clip": true}, "encoding": {"x": {"field": "n", "type": "quantitative", "scale": {"domain": [46, 4], "nice": false, "zero": false}, "axis": {"title": "sample size", "labelOverlap": false, "tickCount": 20, "values": [45,40,35,30,25,20,15,10,5]}}, "y": {"field": "v", "type": "quantitative", "scale": {"domain": [-0.021, 0.621], "nice": false, "zero": false}, "axis": {"title": "FPR", "labelOverlap": false, "tickCount": 20, "values": [0,0.1,0.2,0.3,0.4,0.5,0.6], "format": ".1f"}}, "color": {"field": "s", "type": "nominal", "scale": {"domain": ["a","b","c","d","e","f","g","h","i"], "range": ["#1c2a7a","#4c5fb4","#88c9eb","#1f5e2e","#5cb833","#b6dd9c","#7c1418","#e3222a","#e640a0"]}, "legend": null}}},
   {"mark": {"type": "point", "filled": true, "size": 22, "opacity": 1, "clip": true}, "encoding": {"x": {"field": "n", "type": "quantitative", "scale": {"domain": [46, 4], "nice": false, "zero": false}, "axis": {"title": "sample size", "labelOverlap": false, "tickCount": 20, "values": [45,40,35,30,25,20,15,10,5]}}, "y": {"field": "v", "type": "quantitative", "scale": {"domain": [-0.021, 0.621], "nice": false, "zero": false}, "axis": {"title": "FPR", "labelOverlap": false, "tickCount": 20, "values": [0,0.1,0.2,0.3,0.4,0.5,0.6], "format": ".1f"}}, "color": {"field": "s", "type": "nominal", "scale": {"domain": ["a","b","c","d","e","f","g","h","i"], "range": ["#1c2a7a","#4c5fb4","#88c9eb","#1f5e2e","#5cb833","#b6dd9c","#7c1418","#e3222a","#e640a0"]}, "legend": null}}},
   {"transform": [{"filter": "datum.s == 'e' && datum.n == 45"}], "mark": {"type": "rule", "strokeDash": [5, 3], "strokeWidth": 1, "color": "#111"}, "encoding": {"x": {"datum": 46, "type": "quantitative"}, "x2": {"datum": 4}, "y": {"datum": 0.05, "type": "quantitative"}}},
   {"transform": [{"filter": "datum.s == 'e' && datum.n == 45"}], "mark": {"type": "text", "text": "ρ = 0.2", "fontSize": 7.5, "align": "left", "baseline": "middle", "color": "#333"}, "encoding": {"x": {"datum": 44.7, "type": "quantitative"}, "y": {"datum": 0.367, "type": "quantitative"}}}
  ]},
  {"width": 171, "height": 157, "data": {"name": "B2f"}, "layer": [
   {"mark": {"type": "rule", "strokeWidth": 2.5, "clip": true}, "encoding": {"x": {"field": "n", "type": "quantitative", "scale": {"domain": [46, 4], "nice": false, "zero": false}, "axis": {"title": "sample size", "labelOverlap": false, "tickCount": 20, "values": [45,40,35,30,25,20,15,10,5]}}, "y": {"field": "l", "type": "quantitative", "scale": {"domain": [-0.021, 0.621], "nice": false, "zero": false}, "axis": {"title": "FPR", "labelOverlap": false, "tickCount": 20, "values": [0,0.1,0.2,0.3,0.4,0.5,0.6], "format": ".1f"}}, "y2": {"field": "h"}, "color": {"field": "s", "type": "nominal", "scale": {"domain": ["a","b","c","d","e","f","g","h","i"], "range": ["#1c2a7a","#4c5fb4","#88c9eb","#1f5e2e","#5cb833","#b6dd9c","#7c1418","#e3222a","#e640a0"]}, "legend": null}}},
   {"mark": {"type": "tick", "orient": "horizontal", "size": 8, "thickness": 2.5, "opacity": 1, "clip": true}, "encoding": {"x": {"field": "n", "type": "quantitative", "scale": {"domain": [46, 4], "nice": false, "zero": false}, "axis": {"title": "sample size", "labelOverlap": false, "tickCount": 20, "values": [45,40,35,30,25,20,15,10,5]}}, "y": {"field": "l", "type": "quantitative", "scale": {"domain": [-0.021, 0.621], "nice": false, "zero": false}, "axis": {"title": "FPR", "labelOverlap": false, "tickCount": 20, "values": [0,0.1,0.2,0.3,0.4,0.5,0.6], "format": ".1f"}}, "color": {"field": "s", "type": "nominal", "scale": {"domain": ["a","b","c","d","e","f","g","h","i"], "range": ["#1c2a7a","#4c5fb4","#88c9eb","#1f5e2e","#5cb833","#b6dd9c","#7c1418","#e3222a","#e640a0"]}, "legend": null}}},
   {"mark": {"type": "tick", "orient": "horizontal", "size": 8, "thickness": 2.5, "opacity": 1, "clip": true}, "encoding": {"x": {"field": "n", "type": "quantitative", "scale": {"domain": [46, 4], "nice": false, "zero": false}, "axis": {"title": "sample size", "labelOverlap": false, "tickCount": 20, "values": [45,40,35,30,25,20,15,10,5]}}, "y": {"field": "h", "type": "quantitative", "scale": {"domain": [-0.021, 0.621], "nice": false, "zero": false}, "axis": {"title": "FPR", "labelOverlap": false, "tickCount": 20, "values": [0,0.1,0.2,0.3,0.4,0.5,0.6], "format": ".1f"}}, "color": {"field": "s", "type": "nominal", "scale": {"domain": ["a","b","c","d","e","f","g","h","i"], "range": ["#1c2a7a","#4c5fb4","#88c9eb","#1f5e2e","#5cb833","#b6dd9c","#7c1418","#e3222a","#e640a0"]}, "legend": null}}},
   {"mark": {"type": "line", "strokeWidth": 3, "clip": true}, "encoding": {"x": {"field": "n", "type": "quantitative", "scale": {"domain": [46, 4], "nice": false, "zero": false}, "axis": {"title": "sample size", "labelOverlap": false, "tickCount": 20, "values": [45,40,35,30,25,20,15,10,5]}}, "y": {"field": "v", "type": "quantitative", "scale": {"domain": [-0.021, 0.621], "nice": false, "zero": false}, "axis": {"title": "FPR", "labelOverlap": false, "tickCount": 20, "values": [0,0.1,0.2,0.3,0.4,0.5,0.6], "format": ".1f"}}, "color": {"field": "s", "type": "nominal", "scale": {"domain": ["a","b","c","d","e","f","g","h","i"], "range": ["#1c2a7a","#4c5fb4","#88c9eb","#1f5e2e","#5cb833","#b6dd9c","#7c1418","#e3222a","#e640a0"]}, "legend": null}}},
   {"mark": {"type": "point", "filled": true, "size": 22, "opacity": 1, "clip": true}, "encoding": {"x": {"field": "n", "type": "quantitative", "scale": {"domain": [46, 4], "nice": false, "zero": false}, "axis": {"title": "sample size", "labelOverlap": false, "tickCount": 20, "values": [45,40,35,30,25,20,15,10,5]}}, "y": {"field": "v", "type": "quantitative", "scale": {"domain": [-0.021, 0.621], "nice": false, "zero": false}, "axis": {"title": "FPR", "labelOverlap": false, "tickCount": 20, "values": [0,0.1,0.2,0.3,0.4,0.5,0.6], "format": ".1f"}}, "color": {"field": "s", "type": "nominal", "scale": {"domain": ["a","b","c","d","e","f","g","h","i"], "range": ["#1c2a7a","#4c5fb4","#88c9eb","#1f5e2e","#5cb833","#b6dd9c","#7c1418","#e3222a","#e640a0"]}, "legend": null}}},
   {"transform": [{"filter": "datum.s == 'e' && datum.n == 45"}], "mark": {"type": "rule", "strokeDash": [5, 3], "strokeWidth": 1, "color": "#111"}, "encoding": {"x": {"datum": 46, "type": "quantitative"}, "x2": {"datum": 4}, "y": {"datum": 0.05, "type": "quantitative"}}},
   {"transform": [{"filter": "datum.s == 'e' && datum.n == 45"}], "mark": {"type": "text", "text": "ρ = 0.4", "fontSize": 7.5, "align": "left", "baseline": "middle", "color": "#333"}, "encoding": {"x": {"datum": 44.7, "type": "quantitative"}, "y": {"datum": 0.353, "type": "quantitative"}}}
  ]},
  {"width": 171, "height": 157, "data": {"name": "B3f"}, "layer": [
   {"mark": {"type": "rule", "strokeWidth": 2.5, "clip": true}, "encoding": {"x": {"field": "n", "type": "quantitative", "scale": {"domain": [46, 4], "nice": false, "zero": false}, "axis": {"title": "sample size", "labelOverlap": false, "tickCount": 20, "values": [45,40,35,30,25,20,15,10,5]}}, "y": {"field": "l", "type": "quantitative", "scale": {"domain": [-0.021, 0.621], "nice": false, "zero": false}, "axis": {"title": "FPR", "labelOverlap": false, "tickCount": 20, "values": [0,0.1,0.2,0.3,0.4,0.5,0.6], "format": ".1f"}}, "y2": {"field": "h"}, "color": {"field": "s", "type": "nominal", "scale": {"domain": ["a","b","c","d","e","f","g","h","i"], "range": ["#1c2a7a","#4c5fb4","#88c9eb","#1f5e2e","#5cb833","#b6dd9c","#7c1418","#e3222a","#e640a0"]}, "legend": null}}},
   {"mark": {"type": "tick", "orient": "horizontal", "size": 8, "thickness": 2.5, "opacity": 1, "clip": true}, "encoding": {"x": {"field": "n", "type": "quantitative", "scale": {"domain": [46, 4], "nice": false, "zero": false}, "axis": {"title": "sample size", "labelOverlap": false, "tickCount": 20, "values": [45,40,35,30,25,20,15,10,5]}}, "y": {"field": "l", "type": "quantitative", "scale": {"domain": [-0.021, 0.621], "nice": false, "zero": false}, "axis": {"title": "FPR", "labelOverlap": false, "tickCount": 20, "values": [0,0.1,0.2,0.3,0.4,0.5,0.6], "format": ".1f"}}, "color": {"field": "s", "type": "nominal", "scale": {"domain": ["a","b","c","d","e","f","g","h","i"], "range": ["#1c2a7a","#4c5fb4","#88c9eb","#1f5e2e","#5cb833","#b6dd9c","#7c1418","#e3222a","#e640a0"]}, "legend": null}}},
   {"mark": {"type": "tick", "orient": "horizontal", "size": 8, "thickness": 2.5, "opacity": 1, "clip": true}, "encoding": {"x": {"field": "n", "type": "quantitative", "scale": {"domain": [46, 4], "nice": false, "zero": false}, "axis": {"title": "sample size", "labelOverlap": false, "tickCount": 20, "values": [45,40,35,30,25,20,15,10,5]}}, "y": {"field": "h", "type": "quantitative", "scale": {"domain": [-0.021, 0.621], "nice": false, "zero": false}, "axis": {"title": "FPR", "labelOverlap": false, "tickCount": 20, "values": [0,0.1,0.2,0.3,0.4,0.5,0.6], "format": ".1f"}}, "color": {"field": "s", "type": "nominal", "scale": {"domain": ["a","b","c","d","e","f","g","h","i"], "range": ["#1c2a7a","#4c5fb4","#88c9eb","#1f5e2e","#5cb833","#b6dd9c","#7c1418","#e3222a","#e640a0"]}, "legend": null}}},
   {"mark": {"type": "line", "strokeWidth": 3, "clip": true}, "encoding": {"x": {"field": "n", "type": "quantitative", "scale": {"domain": [46, 4], "nice": false, "zero": false}, "axis": {"title": "sample size", "labelOverlap": false, "tickCount": 20, "values": [45,40,35,30,25,20,15,10,5]}}, "y": {"field": "v", "type": "quantitative", "scale": {"domain": [-0.021, 0.621], "nice": false, "zero": false}, "axis": {"title": "FPR", "labelOverlap": false, "tickCount": 20, "values": [0,0.1,0.2,0.3,0.4,0.5,0.6], "format": ".1f"}}, "color": {"field": "s", "type": "nominal", "scale": {"domain": ["a","b","c","d","e","f","g","h","i"], "range": ["#1c2a7a","#4c5fb4","#88c9eb","#1f5e2e","#5cb833","#b6dd9c","#7c1418","#e3222a","#e640a0"]}, "legend": null}}},
   {"mark": {"type": "point", "filled": true, "size": 22, "opacity": 1, "clip": true}, "encoding": {"x": {"field": "n", "type": "quantitative", "scale": {"domain": [46, 4], "nice": false, "zero": false}, "axis": {"title": "sample size", "labelOverlap": false, "tickCount": 20, "values": [45,40,35,30,25,20,15,10,5]}}, "y": {"field": "v", "type": "quantitative", "scale": {"domain": [-0.021, 0.621], "nice": false, "zero": false}, "axis": {"title": "FPR", "labelOverlap": false, "tickCount": 20, "values": [0,0.1,0.2,0.3,0.4,0.5,0.6], "format": ".1f"}}, "color": {"field": "s", "type": "nominal", "scale": {"domain": ["a","b","c","d","e","f","g","h","i"], "range": ["#1c2a7a","#4c5fb4","#88c9eb","#1f5e2e","#5cb833","#b6dd9c","#7c1418","#e3222a","#e640a0"]}, "legend": null}}},
   {"transform": [{"filter": "datum.s == 'e' && datum.n == 45"}], "mark": {"type": "rule", "strokeDash": [5, 3], "strokeWidth": 1, "color": "#111"}, "encoding": {"x": {"datum": 46, "type": "quantitative"}, "x2": {"datum": 4}, "y": {"datum": 0.05, "type": "quantitative"}}},
   {"transform": [{"filter": "datum.s == 'e' && datum.n == 45"}], "mark": {"type": "text", "text": "ρ = 0.6", "fontSize": 7.5, "align": "left", "baseline": "middle", "color": "#333"}, "encoding": {"x": {"datum": 44.7, "type": "quantitative"}, "y": {"datum": 0.362, "type": "quantitative"}}}
  ]}
 ]},
 {"spacing": 20, "hconcat": [
  {"width": 171, "height": 157, "data": {"name": "B1c"}, "layer": [
   {"mark": {"type": "rule", "strokeWidth": 2.5, "clip": true}, "encoding": {"x": {"field": "n", "type": "quantitative", "scale": {"domain": [46, 4], "nice": false, "zero": false}, "axis": {"title": "sample size", "labelOverlap": false, "tickCount": 20, "values": [45,40,35,30,25,20,15,10,5]}}, "y": {"field": "l", "type": "quantitative", "scale": {"domain": [-7, 207], "nice": false, "zero": false}, "axis": {"title": "no of significant pathways", "labelOverlap": false, "tickCount": 20, "values": [0,50,100,150,200], "format": "d"}}, "y2": {"field": "h"}, "color": {"field": "s", "type": "nominal", "scale": {"domain": ["a","b","c","d","e","f","g","h","i"], "range": ["#1c2a7a","#4c5fb4","#88c9eb","#1f5e2e","#5cb833","#b6dd9c","#7c1418","#e3222a","#e640a0"]}, "legend": null}}},
   {"mark": {"type": "tick", "orient": "horizontal", "size": 8, "thickness": 2.5, "opacity": 1, "clip": true}, "encoding": {"x": {"field": "n", "type": "quantitative", "scale": {"domain": [46, 4], "nice": false, "zero": false}, "axis": {"title": "sample size", "labelOverlap": false, "tickCount": 20, "values": [45,40,35,30,25,20,15,10,5]}}, "y": {"field": "l", "type": "quantitative", "scale": {"domain": [-7, 207], "nice": false, "zero": false}, "axis": {"title": "no of significant pathways", "labelOverlap": false, "tickCount": 20, "values": [0,50,100,150,200], "format": "d"}}, "color": {"field": "s", "type": "nominal", "scale": {"domain": ["a","b","c","d","e","f","g","h","i"], "range": ["#1c2a7a","#4c5fb4","#88c9eb","#1f5e2e","#5cb833","#b6dd9c","#7c1418","#e3222a","#e640a0"]}, "legend": null}}},
   {"mark": {"type": "tick", "orient": "horizontal", "size": 8, "thickness": 2.5, "opacity": 1, "clip": true}, "encoding": {"x": {"field": "n", "type": "quantitative", "scale": {"domain": [46, 4], "nice": false, "zero": false}, "axis": {"title": "sample size", "labelOverlap": false, "tickCount": 20, "values": [45,40,35,30,25,20,15,10,5]}}, "y": {"field": "h", "type": "quantitative", "scale": {"domain": [-7, 207], "nice": false, "zero": false}, "axis": {"title": "no of significant pathways", "labelOverlap": false, "tickCount": 20, "values": [0,50,100,150,200], "format": "d"}}, "color": {"field": "s", "type": "nominal", "scale": {"domain": ["a","b","c","d","e","f","g","h","i"], "range": ["#1c2a7a","#4c5fb4","#88c9eb","#1f5e2e","#5cb833","#b6dd9c","#7c1418","#e3222a","#e640a0"]}, "legend": null}}},
   {"mark": {"type": "line", "strokeWidth": 3, "clip": true}, "encoding": {"x": {"field": "n", "type": "quantitative", "scale": {"domain": [46, 4], "nice": false, "zero": false}, "axis": {"title": "sample size", "labelOverlap": false, "tickCount": 20, "values": [45,40,35,30,25,20,15,10,5]}}, "y": {"field": "v", "type": "quantitative", "scale": {"domain": [-7, 207], "nice": false, "zero": false}, "axis": {"title": "no of significant pathways", "labelOverlap": false, "tickCount": 20, "values": [0,50,100,150,200], "format": "d"}}, "color": {"field": "s", "type": "nominal", "scale": {"domain": ["a","b","c","d","e","f","g","h","i"], "range": ["#1c2a7a","#4c5fb4","#88c9eb","#1f5e2e","#5cb833","#b6dd9c","#7c1418","#e3222a","#e640a0"]}, "legend": null}}},
   {"mark": {"type": "point", "filled": true, "size": 22, "opacity": 1, "clip": true}, "encoding": {"x": {"field": "n", "type": "quantitative", "scale": {"domain": [46, 4], "nice": false, "zero": false}, "axis": {"title": "sample size", "labelOverlap": false, "tickCount": 20, "values": [45,40,35,30,25,20,15,10,5]}}, "y": {"field": "v", "type": "quantitative", "scale": {"domain": [-7, 207], "nice": false, "zero": false}, "axis": {"title": "no of significant pathways", "labelOverlap": false, "tickCount": 20, "values": [0,50,100,150,200], "format": "d"}}, "color": {"field": "s", "type": "nominal", "scale": {"domain": ["a","b","c","d","e","f","g","h","i"], "range": ["#1c2a7a","#4c5fb4","#88c9eb","#1f5e2e","#5cb833","#b6dd9c","#7c1418","#e3222a","#e640a0"]}, "legend": null}}},
   {"transform": [{"filter": "datum.s == 'e' && datum.n == 45"}], "mark": {"type": "text", "text": "ρ = 0.2", "fontSize": 7.5, "align": "left", "baseline": "middle", "color": "#333"}, "encoding": {"x": {"datum": 44.7, "type": "quantitative"}, "y": {"datum": 123, "type": "quantitative"}}}
  ]},
  {"width": 171, "height": 157, "data": {"name": "B2c"}, "layer": [
   {"mark": {"type": "rule", "strokeWidth": 2.5, "clip": true}, "encoding": {"x": {"field": "n", "type": "quantitative", "scale": {"domain": [46, 4], "nice": false, "zero": false}, "axis": {"title": "sample size", "labelOverlap": false, "tickCount": 20, "values": [45,40,35,30,25,20,15,10,5]}}, "y": {"field": "l", "type": "quantitative", "scale": {"domain": [-7, 207], "nice": false, "zero": false}, "axis": {"title": "no of significant pathways", "labelOverlap": false, "tickCount": 20, "values": [0,50,100,150,200], "format": "d"}}, "y2": {"field": "h"}, "color": {"field": "s", "type": "nominal", "scale": {"domain": ["a","b","c","d","e","f","g","h","i"], "range": ["#1c2a7a","#4c5fb4","#88c9eb","#1f5e2e","#5cb833","#b6dd9c","#7c1418","#e3222a","#e640a0"]}, "legend": null}}},
   {"mark": {"type": "tick", "orient": "horizontal", "size": 8, "thickness": 2.5, "opacity": 1, "clip": true}, "encoding": {"x": {"field": "n", "type": "quantitative", "scale": {"domain": [46, 4], "nice": false, "zero": false}, "axis": {"title": "sample size", "labelOverlap": false, "tickCount": 20, "values": [45,40,35,30,25,20,15,10,5]}}, "y": {"field": "l", "type": "quantitative", "scale": {"domain": [-7, 207], "nice": false, "zero": false}, "axis": {"title": "no of significant pathways", "labelOverlap": false, "tickCount": 20, "values": [0,50,100,150,200], "format": "d"}}, "color": {"field": "s", "type": "nominal", "scale": {"domain": ["a","b","c","d","e","f","g","h","i"], "range": ["#1c2a7a","#4c5fb4","#88c9eb","#1f5e2e","#5cb833","#b6dd9c","#7c1418","#e3222a","#e640a0"]}, "legend": null}}},
   {"mark": {"type": "tick", "orient": "horizontal", "size": 8, "thickness": 2.5, "opacity": 1, "clip": true}, "encoding": {"x": {"field": "n", "type": "quantitative", "scale": {"domain": [46, 4], "nice": false, "zero": false}, "axis": {"title": "sample size", "labelOverlap": false, "tickCount": 20, "values": [45,40,35,30,25,20,15,10,5]}}, "y": {"field": "h", "type": "quantitative", "scale": {"domain": [-7, 207], "nice": false, "zero": false}, "axis": {"title": "no of significant pathways", "labelOverlap": false, "tickCount": 20, "values": [0,50,100,150,200], "format": "d"}}, "color": {"field": "s", "type": "nominal", "scale": {"domain": ["a","b","c","d","e","f","g","h","i"], "range": ["#1c2a7a","#4c5fb4","#88c9eb","#1f5e2e","#5cb833","#b6dd9c","#7c1418","#e3222a","#e640a0"]}, "legend": null}}},
   {"mark": {"type": "line", "strokeWidth": 3, "clip": true}, "encoding": {"x": {"field": "n", "type": "quantitative", "scale": {"domain": [46, 4], "nice": false, "zero": false}, "axis": {"title": "sample size", "labelOverlap": false, "tickCount": 20, "values": [45,40,35,30,25,20,15,10,5]}}, "y": {"field": "v", "type": "quantitative", "scale": {"domain": [-7, 207], "nice": false, "zero": false}, "axis": {"title": "no of significant pathways", "labelOverlap": false, "tickCount": 20, "values": [0,50,100,150,200], "format": "d"}}, "color": {"field": "s", "type": "nominal", "scale": {"domain": ["a","b","c","d","e","f","g","h","i"], "range": ["#1c2a7a","#4c5fb4","#88c9eb","#1f5e2e","#5cb833","#b6dd9c","#7c1418","#e3222a","#e640a0"]}, "legend": null}}},
   {"mark": {"type": "point", "filled": true, "size": 22, "opacity": 1, "clip": true}, "encoding": {"x": {"field": "n", "type": "quantitative", "scale": {"domain": [46, 4], "nice": false, "zero": false}, "axis": {"title": "sample size", "labelOverlap": false, "tickCount": 20, "values": [45,40,35,30,25,20,15,10,5]}}, "y": {"field": "v", "type": "quantitative", "scale": {"domain": [-7, 207], "nice": false, "zero": false}, "axis": {"title": "no of significant pathways", "labelOverlap": false, "tickCount": 20, "values": [0,50,100,150,200], "format": "d"}}, "color": {"field": "s", "type": "nominal", "scale": {"domain": ["a","b","c","d","e","f","g","h","i"], "range": ["#1c2a7a","#4c5fb4","#88c9eb","#1f5e2e","#5cb833","#b6dd9c","#7c1418","#e3222a","#e640a0"]}, "legend": null}}},
   {"transform": [{"filter": "datum.s == 'e' && datum.n == 45"}], "mark": {"type": "text", "text": "ρ = 0.4", "fontSize": 7.5, "align": "left", "baseline": "middle", "color": "#333"}, "encoding": {"x": {"datum": 44.7, "type": "quantitative"}, "y": {"datum": 116, "type": "quantitative"}}}
  ]},
  {"width": 171, "height": 157, "data": {"name": "B3c"}, "layer": [
   {"mark": {"type": "rule", "strokeWidth": 2.5, "clip": true}, "encoding": {"x": {"field": "n", "type": "quantitative", "scale": {"domain": [46, 4], "nice": false, "zero": false}, "axis": {"title": "sample size", "labelOverlap": false, "tickCount": 20, "values": [45,40,35,30,25,20,15,10,5]}}, "y": {"field": "l", "type": "quantitative", "scale": {"domain": [-7, 207], "nice": false, "zero": false}, "axis": {"title": "no of significant pathways", "labelOverlap": false, "tickCount": 20, "values": [0,50,100,150,200], "format": "d"}}, "y2": {"field": "h"}, "color": {"field": "s", "type": "nominal", "scale": {"domain": ["a","b","c","d","e","f","g","h","i"], "range": ["#1c2a7a","#4c5fb4","#88c9eb","#1f5e2e","#5cb833","#b6dd9c","#7c1418","#e3222a","#e640a0"]}, "legend": null}}},
   {"mark": {"type": "tick", "orient": "horizontal", "size": 8, "thickness": 2.5, "opacity": 1, "clip": true}, "encoding": {"x": {"field": "n", "type": "quantitative", "scale": {"domain": [46, 4], "nice": false, "zero": false}, "axis": {"title": "sample size", "labelOverlap": false, "tickCount": 20, "values": [45,40,35,30,25,20,15,10,5]}}, "y": {"field": "l", "type": "quantitative", "scale": {"domain": [-7, 207], "nice": false, "zero": false}, "axis": {"title": "no of significant pathways", "labelOverlap": false, "tickCount": 20, "values": [0,50,100,150,200], "format": "d"}}, "color": {"field": "s", "type": "nominal", "scale": {"domain": ["a","b","c","d","e","f","g","h","i"], "range": ["#1c2a7a","#4c5fb4","#88c9eb","#1f5e2e","#5cb833","#b6dd9c","#7c1418","#e3222a","#e640a0"]}, "legend": null}}},
   {"mark": {"type": "tick", "orient": "horizontal", "size": 8, "thickness": 2.5, "opacity": 1, "clip": true}, "encoding": {"x": {"field": "n", "type": "quantitative", "scale": {"domain": [46, 4], "nice": false, "zero": false}, "axis": {"title": "sample size", "labelOverlap": false, "tickCount": 20, "values": [45,40,35,30,25,20,15,10,5]}}, "y": {"field": "h", "type": "quantitative", "scale": {"domain": [-7, 207], "nice": false, "zero": false}, "axis": {"title": "no of significant pathways", "labelOverlap": false, "tickCount": 20, "values": [0,50,100,150,200], "format": "d"}}, "color": {"field": "s", "type": "nominal", "scale": {"domain": ["a","b","c","d","e","f","g","h","i"], "range": ["#1c2a7a","#4c5fb4","#88c9eb","#1f5e2e","#5cb833","#b6dd9c","#7c1418","#e3222a","#e640a0"]}, "legend": null}}},
   {"mark": {"type": "line", "strokeWidth": 3, "clip": true}, "encoding": {"x": {"field": "n", "type": "quantitative", "scale": {"domain": [46, 4], "nice": false, "zero": false}, "axis": {"title": "sample size", "labelOverlap": false, "tickCount": 20, "values": [45,40,35,30,25,20,15,10,5]}}, "y": {"field": "v", "type": "quantitative", "scale": {"domain": [-7, 207], "nice": false, "zero": false}, "axis": {"title": "no of significant pathways", "labelOverlap": false, "tickCount": 20, "values": [0,50,100,150,200], "format": "d"}}, "color": {"field": "s", "type": "nominal", "scale": {"domain": ["a","b","c","d","e","f","g","h","i"], "range": ["#1c2a7a","#4c5fb4","#88c9eb","#1f5e2e","#5cb833","#b6dd9c","#7c1418","#e3222a","#e640a0"]}, "legend": null}}},
   {"mark": {"type": "point", "filled": true, "size": 22, "opacity": 1, "clip": true}, "encoding": {"x": {"field": "n", "type": "quantitative", "scale": {"domain": [46, 4], "nice": false, "zero": false}, "axis": {"title": "sample size", "labelOverlap": false, "tickCount": 20, "values": [45,40,35,30,25,20,15,10,5]}}, "y": {"field": "v", "type": "quantitative", "scale": {"domain": [-7, 207], "nice": false, "zero": false}, "axis": {"title": "no of significant pathways", "labelOverlap": false, "tickCount": 20, "values": [0,50,100,150,200], "format": "d"}}, "color": {"field": "s", "type": "nominal", "scale": {"domain": ["a","b","c","d","e","f","g","h","i"], "range": ["#1c2a7a","#4c5fb4","#88c9eb","#1f5e2e","#5cb833","#b6dd9c","#7c1418","#e3222a","#e640a0"]}, "legend": null}}},
   {"transform": [{"filter": "datum.s == 'e' && datum.n == 45"}], "mark": {"type": "text", "text": "ρ = 0.6", "fontSize": 7.5, "align": "left", "baseline": "middle", "color": "#333"}, "encoding": {"x": {"datum": 44.7, "type": "quantitative"}, "y": {"datum": 124, "type": "quantitative"}}}
  ]}
 ]}
]}
]
}
